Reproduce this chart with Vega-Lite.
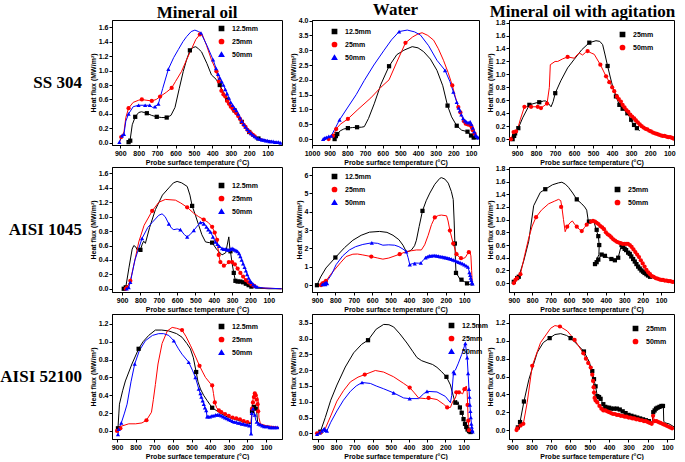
{
"$schema":"https://vega.github.io/schema/vega-lite/v6.json",
"padding":0,
"background":"white",
"bounds":"flush",
"columns":4,
"spacing":{"row":22,"column":30},
"resolve":{"scale":{"color":"independent","shape":"independent"}},
"datasets":{
"L":[
{"p":"a1","s":"12.5mm","T":862,"q":0},{"p":"a1","s":"12.5mm","T":855,"q":0.01},{"p":"a1","s":"12.5mm","T":846,"q":0.05},{"p":"a1","s":"12.5mm","T":835,"q":0.25},{"p":"a1","s":"12.5mm","T":819,"q":0.36},{"p":"a1","s":"12.5mm","T":800,"q":0.42},{"p":"a1","s":"12.5mm","T":785,"q":0.43},{"p":"a1","s":"12.5mm","T":770,"q":0.42},{"p":"a1","s":"12.5mm","T":756,"q":0.41},{"p":"a1","s":"12.5mm","T":730,"q":0.38},{"p":"a1","s":"12.5mm","T":702,"q":0.36},{"p":"a1","s":"12.5mm","T":675,"q":0.35},{"p":"a1","s":"12.5mm","T":648,"q":0.35},{"p":"a1","s":"12.5mm","T":625,"q":0.38},{"p":"a1","s":"12.5mm","T":603,"q":0.49},{"p":"a1","s":"12.5mm","T":580,"q":0.75},{"p":"a1","s":"12.5mm","T":558,"q":0.99},{"p":"a1","s":"12.5mm","T":540,"q":1.15},{"p":"a1","s":"12.5mm","T":522,"q":1.28},{"p":"a1","s":"12.5mm","T":505,"q":1.32},{"p":"a1","s":"12.5mm","T":490,"q":1.33},{"p":"a1","s":"12.5mm","T":475,"q":1.3},{"p":"a1","s":"12.5mm","T":459,"q":1.26},{"p":"a1","s":"12.5mm","T":430,"q":1.1},{"p":"a1","s":"12.5mm","T":405,"q":0.94},{"p":"a1","s":"12.5mm","T":380,"q":0.88},{"p":"a1","s":"12.5mm","T":360,"q":0.8},{"p":"a1","s":"12.5mm","T":340,"q":0.7},{"p":"a1","s":"12.5mm","T":315,"q":0.58},{"p":"a1","s":"12.5mm","T":300,"q":0.52},{"p":"a1","s":"12.5mm","T":271,"q":0.42},{"p":"a1","s":"12.5mm","T":233,"q":0.26},{"p":"a1","s":"12.5mm","T":195,"q":0.14},{"p":"a1","s":"12.5mm","T":157,"q":0.07},{"p":"a1","s":"12.5mm","T":120,"q":0.04},{"p":"a1","s":"12.5mm","T":100,"q":0.03},{"p":"a1","s":"12.5mm","T":60,"q":0.01},{"p":"a1","s":"12.5mm","T":30,"q":0},
{"p":"a1","s":"25mm","T":905,"q":0},{"p":"a1","s":"25mm","T":895,"q":0.08},{"p":"a1","s":"25mm","T":880,"q":0.15},{"p":"a1","s":"25mm","T":870,"q":0.35},{"p":"a1","s":"25mm","T":855,"q":0.48},{"p":"a1","s":"25mm","T":830,"q":0.56},{"p":"a1","s":"25mm","T":800,"q":0.59},{"p":"a1","s":"25mm","T":783,"q":0.6},{"p":"a1","s":"25mm","T":760,"q":0.59},{"p":"a1","s":"25mm","T":729,"q":0.58},{"p":"a1","s":"25mm","T":705,"q":0.6},{"p":"a1","s":"25mm","T":684,"q":0.64},{"p":"a1","s":"25mm","T":650,"q":0.7},{"p":"a1","s":"25mm","T":621,"q":0.76},{"p":"a1","s":"25mm","T":600,"q":0.85},{"p":"a1","s":"25mm","T":567,"q":0.99},{"p":"a1","s":"25mm","T":540,"q":1.15},{"p":"a1","s":"25mm","T":513,"q":1.3},{"p":"a1","s":"25mm","T":490,"q":1.43},{"p":"a1","s":"25mm","T":468,"q":1.5},{"p":"a1","s":"25mm","T":455,"q":1.5},{"p":"a1","s":"25mm","T":432,"q":1.35},{"p":"a1","s":"25mm","T":405,"q":1.15},{"p":"a1","s":"25mm","T":378,"q":0.99},{"p":"a1","s":"25mm","T":351,"q":0.72},{"p":"a1","s":"25mm","T":330,"q":0.64},{"p":"a1","s":"25mm","T":315,"q":0.56},{"p":"a1","s":"25mm","T":300,"q":0.5},{"p":"a1","s":"25mm","T":271,"q":0.42},{"p":"a1","s":"25mm","T":233,"q":0.26},{"p":"a1","s":"25mm","T":195,"q":0.14},{"p":"a1","s":"25mm","T":157,"q":0.07},{"p":"a1","s":"25mm","T":100,"q":0.03},{"p":"a1","s":"25mm","T":30,"q":0},
{"p":"a1","s":"50mm","T":910,"q":0},{"p":"a1","s":"50mm","T":905,"q":0.01},{"p":"a1","s":"50mm","T":891,"q":0.1},{"p":"a1","s":"50mm","T":880,"q":0.12},{"p":"a1","s":"50mm","T":870,"q":0.3},{"p":"a1","s":"50mm","T":855,"q":0.4},{"p":"a1","s":"50mm","T":830,"q":0.5},{"p":"a1","s":"50mm","T":801,"q":0.52},{"p":"a1","s":"50mm","T":765,"q":0.52},{"p":"a1","s":"50mm","T":740,"q":0.52},{"p":"a1","s":"50mm","T":725,"q":0.49},{"p":"a1","s":"50mm","T":711,"q":0.5},{"p":"a1","s":"50mm","T":693,"q":0.54},{"p":"a1","s":"50mm","T":670,"q":0.75},{"p":"a1","s":"50mm","T":639,"q":1.02},{"p":"a1","s":"50mm","T":610,"q":1.18},{"p":"a1","s":"50mm","T":585,"q":1.29},{"p":"a1","s":"50mm","T":560,"q":1.4},{"p":"a1","s":"50mm","T":540,"q":1.47},{"p":"a1","s":"50mm","T":515,"q":1.54},{"p":"a1","s":"50mm","T":495,"q":1.56},{"p":"a1","s":"50mm","T":475,"q":1.54},{"p":"a1","s":"50mm","T":462,"q":1.52},{"p":"a1","s":"50mm","T":430,"q":1.35},{"p":"a1","s":"50mm","T":396,"q":1.15},{"p":"a1","s":"50mm","T":369,"q":0.95},{"p":"a1","s":"50mm","T":340,"q":0.8},{"p":"a1","s":"50mm","T":315,"q":0.65},{"p":"a1","s":"50mm","T":300,"q":0.56},{"p":"a1","s":"50mm","T":271,"q":0.45},{"p":"a1","s":"50mm","T":233,"q":0.27},{"p":"a1","s":"50mm","T":195,"q":0.15},{"p":"a1","s":"50mm","T":157,"q":0.07},{"p":"a1","s":"50mm","T":100,"q":0.03},{"p":"a1","s":"50mm","T":25,"q":0},

{"p":"a2","s":"12.5mm","T":872,"q":0},{"p":"a2","s":"12.5mm","T":865,"q":0.1},{"p":"a2","s":"12.5mm","T":857,"q":0.17},{"p":"a2","s":"12.5mm","T":840,"q":0.28},{"p":"a2","s":"12.5mm","T":820,"q":0.34},{"p":"a2","s":"12.5mm","T":797,"q":0.37},{"p":"a2","s":"12.5mm","T":770,"q":0.39},{"p":"a2","s":"12.5mm","T":745,"q":0.4},{"p":"a2","s":"12.5mm","T":720,"q":0.4},{"p":"a2","s":"12.5mm","T":704,"q":0.42},{"p":"a2","s":"12.5mm","T":680,"q":0.7},{"p":"a2","s":"12.5mm","T":648,"q":1.19},{"p":"a2","s":"12.5mm","T":610,"q":1.85},{"p":"a2","s":"12.5mm","T":564,"q":2.46},{"p":"a2","s":"12.5mm","T":520,"q":2.85},{"p":"a2","s":"12.5mm","T":480,"q":3.0},{"p":"a2","s":"12.5mm","T":433,"q":3.12},{"p":"a2","s":"12.5mm","T":400,"q":3.08},{"p":"a2","s":"12.5mm","T":368,"q":2.95},{"p":"a2","s":"12.5mm","T":330,"q":2.7},{"p":"a2","s":"12.5mm","T":293,"q":2.32},{"p":"a2","s":"12.5mm","T":260,"q":1.8},{"p":"a2","s":"12.5mm","T":233,"q":1.13},{"p":"a2","s":"12.5mm","T":210,"q":0.75},{"p":"a2","s":"12.5mm","T":181,"q":0.45},{"p":"a2","s":"12.5mm","T":153,"q":0.3},{"p":"a2","s":"12.5mm","T":120,"q":0.25},{"p":"a2","s":"12.5mm","T":100,"q":0.12},{"p":"a2","s":"12.5mm","T":80,"q":0.03},{"p":"a2","s":"12.5mm","T":60,"q":0},
{"p":"a2","s":"25mm","T":906,"q":0},{"p":"a2","s":"25mm","T":881,"q":0.11},{"p":"a2","s":"25mm","T":863,"q":0.34},{"p":"a2","s":"25mm","T":840,"q":0.5},{"p":"a2","s":"25mm","T":797,"q":0.68},{"p":"a2","s":"25mm","T":740,"q":1.0},{"p":"a2","s":"25mm","T":667,"q":1.39},{"p":"a2","s":"25mm","T":610,"q":1.75},{"p":"a2","s":"25mm","T":564,"q":2.0},{"p":"a2","s":"25mm","T":520,"q":2.6},{"p":"a2","s":"25mm","T":471,"q":3.25},{"p":"a2","s":"25mm","T":430,"q":3.45},{"p":"a2","s":"25mm","T":400,"q":3.55},{"p":"a2","s":"25mm","T":377,"q":3.59},{"p":"a2","s":"25mm","T":345,"q":3.5},{"p":"a2","s":"25mm","T":312,"q":3.34},{"p":"a2","s":"25mm","T":285,"q":3.05},{"p":"a2","s":"25mm","T":256,"q":2.66},{"p":"a2","s":"25mm","T":230,"q":2.25},{"p":"a2","s":"25mm","T":206,"q":1.81},{"p":"a2","s":"25mm","T":190,"q":1.45},{"p":"a2","s":"25mm","T":172,"q":1.08},{"p":"a2","s":"25mm","T":155,"q":0.8},{"p":"a2","s":"25mm","T":135,"q":0.55},{"p":"a2","s":"25mm","T":115,"q":0.5},{"p":"a2","s":"25mm","T":100,"q":0.45},{"p":"a2","s":"25mm","T":90,"q":0.3},{"p":"a2","s":"25mm","T":75,"q":0.12},{"p":"a2","s":"25mm","T":55,"q":0.03},
{"p":"a2","s":"50mm","T":937,"q":0},{"p":"a2","s":"50mm","T":919,"q":0.06},{"p":"a2","s":"50mm","T":891,"q":0.11},{"p":"a2","s":"50mm","T":870,"q":0.35},{"p":"a2","s":"50mm","T":844,"q":0.65},{"p":"a2","s":"50mm","T":800,"q":1.05},{"p":"a2","s":"50mm","T":750,"q":1.5},{"p":"a2","s":"50mm","T":704,"q":1.98},{"p":"a2","s":"50mm","T":650,"q":2.5},{"p":"a2","s":"50mm","T":592,"q":3.0},{"p":"a2","s":"50mm","T":550,"q":3.35},{"p":"a2","s":"50mm","T":507,"q":3.63},{"p":"a2","s":"50mm","T":461,"q":3.68},{"p":"a2","s":"50mm","T":420,"q":3.62},{"p":"a2","s":"50mm","T":386,"q":3.51},{"p":"a2","s":"50mm","T":340,"q":3.15},{"p":"a2","s":"50mm","T":293,"q":2.66},{"p":"a2","s":"50mm","T":247,"q":2.32},{"p":"a2","s":"50mm","T":220,"q":1.95},{"p":"a2","s":"50mm","T":200,"q":1.59},{"p":"a2","s":"50mm","T":181,"q":1.25},{"p":"a2","s":"50mm","T":163,"q":0.96},{"p":"a2","s":"50mm","T":150,"q":0.75},{"p":"a2","s":"50mm","T":130,"q":0.6},{"p":"a2","s":"50mm","T":115,"q":0.55},{"p":"a2","s":"50mm","T":105,"q":0.58},{"p":"a2","s":"50mm","T":95,"q":0.45},{"p":"a2","s":"50mm","T":80,"q":0.2},{"p":"a2","s":"50mm","T":65,"q":0.08},{"p":"a2","s":"50mm","T":50,"q":0.02},

{"p":"a3","s":"25mm","T":923,"q":0},{"p":"a3","s":"25mm","T":910,"q":0.09},{"p":"a3","s":"25mm","T":893,"q":0.17},{"p":"a3","s":"25mm","T":870,"q":0.33},{"p":"a3","s":"25mm","T":835,"q":0.53},{"p":"a3","s":"25mm","T":800,"q":0.56},{"p":"a3","s":"25mm","T":783,"q":0.57},{"p":"a3","s":"25mm","T":760,"q":0.59},{"p":"a3","s":"25mm","T":748,"q":0.59},{"p":"a3","s":"25mm","T":735,"q":0.55},{"p":"a3","s":"25mm","T":721,"q":0.5},{"p":"a3","s":"25mm","T":710,"q":0.58},{"p":"a3","s":"25mm","T":699,"q":0.71},{"p":"a3","s":"25mm","T":670,"q":0.9},{"p":"a3","s":"25mm","T":634,"q":1.1},{"p":"a3","s":"25mm","T":600,"q":1.23},{"p":"a3","s":"25mm","T":560,"q":1.38},{"p":"a3","s":"25mm","T":520,"q":1.49},{"p":"a3","s":"25mm","T":485,"q":1.52},{"p":"a3","s":"25mm","T":465,"q":1.51},{"p":"a3","s":"25mm","T":450,"q":1.46},{"p":"a3","s":"25mm","T":437,"q":1.3},{"p":"a3","s":"25mm","T":424,"q":1.13},{"p":"a3","s":"25mm","T":410,"q":0.96},{"p":"a3","s":"25mm","T":397,"q":0.81},{"p":"a3","s":"25mm","T":380,"q":0.66},{"p":"a3","s":"25mm","T":362,"q":0.53},{"p":"a3","s":"25mm","T":336,"q":0.45},{"p":"a3","s":"25mm","T":310,"q":0.35},{"p":"a3","s":"25mm","T":292,"q":0.24},{"p":"a3","s":"25mm","T":270,"q":0.17},{"p":"a3","s":"25mm","T":255,"q":0.13},
{"p":"a3","s":"50mm","T":932,"q":0},{"p":"a3","s":"50mm","T":918,"q":0.11},{"p":"a3","s":"50mm","T":900,"q":0.12},{"p":"a3","s":"50mm","T":883,"q":0.3},{"p":"a3","s":"50mm","T":861,"q":0.5},{"p":"a3","s":"50mm","T":826,"q":0.5},{"p":"a3","s":"50mm","T":791,"q":0.5},{"p":"a3","s":"50mm","T":774,"q":0.48},{"p":"a3","s":"50mm","T":742,"q":0.55},{"p":"a3","s":"50mm","T":730,"q":0.8},{"p":"a3","s":"50mm","T":725,"q":1.15},{"p":"a3","s":"50mm","T":700,"q":1.2},{"p":"a3","s":"50mm","T":686,"q":1.2},{"p":"a3","s":"50mm","T":660,"q":1.24},{"p":"a3","s":"50mm","T":634,"q":1.27},{"p":"a3","s":"50mm","T":599,"q":1.25},{"p":"a3","s":"50mm","T":585,"q":1.3},{"p":"a3","s":"50mm","T":573,"q":1.33},{"p":"a3","s":"50mm","T":555,"q":1.3},{"p":"a3","s":"50mm","T":540,"q":1.34},{"p":"a3","s":"50mm","T":529,"q":1.36},{"p":"a3","s":"50mm","T":510,"q":1.33},{"p":"a3","s":"50mm","T":494,"q":1.31},{"p":"a3","s":"50mm","T":462,"q":1.15},{"p":"a3","s":"50mm","T":432,"q":0.97},{"p":"a3","s":"50mm","T":406,"q":0.84},{"p":"a3","s":"50mm","T":389,"q":0.74},{"p":"a3","s":"50mm","T":354,"q":0.58},{"p":"a3","s":"50mm","T":319,"q":0.43},{"p":"a3","s":"50mm","T":284,"q":0.32},{"p":"a3","s":"50mm","T":240,"q":0.19},{"p":"a3","s":"50mm","T":196,"q":0.12},{"p":"a3","s":"50mm","T":143,"q":0.06},{"p":"a3","s":"50mm","T":100,"q":0.03},{"p":"a3","s":"50mm","T":70,"q":0.01},

{"p":"b1","s":"12.5mm","T":891,"q":0},{"p":"b1","s":"12.5mm","T":880,"q":0.02},{"p":"b1","s":"12.5mm","T":862,"q":0.3},{"p":"b1","s":"12.5mm","T":845,"q":0.55},{"p":"b1","s":"12.5mm","T":836,"q":0.6},{"p":"b1","s":"12.5mm","T":825,"q":0.58},{"p":"b1","s":"12.5mm","T":818,"q":0.54},{"p":"b1","s":"12.5mm","T":800,"q":0.54},{"p":"b1","s":"12.5mm","T":790,"q":0.62},{"p":"b1","s":"12.5mm","T":782,"q":0.66},{"p":"b1","s":"12.5mm","T":773,"q":0.63},{"p":"b1","s":"12.5mm","T":750,"q":0.85},{"p":"b1","s":"12.5mm","T":718,"q":1.1},{"p":"b1","s":"12.5mm","T":680,"q":1.3},{"p":"b1","s":"12.5mm","T":645,"q":1.4},{"p":"b1","s":"12.5mm","T":620,"q":1.47},{"p":"b1","s":"12.5mm","T":600,"q":1.49},{"p":"b1","s":"12.5mm","T":575,"q":1.47},{"p":"b1","s":"12.5mm","T":545,"q":1.42},{"p":"b1","s":"12.5mm","T":530,"q":1.3},{"p":"b1","s":"12.5mm","T":518,"q":1.15},{"p":"b1","s":"12.5mm","T":500,"q":1.02},{"p":"b1","s":"12.5mm","T":482,"q":0.88},{"p":"b1","s":"12.5mm","T":465,"q":0.75},{"p":"b1","s":"12.5mm","T":445,"q":0.65},{"p":"b1","s":"12.5mm","T":425,"q":0.64},{"p":"b1","s":"12.5mm","T":409,"q":0.64},{"p":"b1","s":"12.5mm","T":385,"q":0.55},{"p":"b1","s":"12.5mm","T":355,"q":0.47},{"p":"b1","s":"12.5mm","T":335,"q":0.5},{"p":"b1","s":"12.5mm","T":318,"q":0.72},{"p":"b1","s":"12.5mm","T":312,"q":0.55},{"p":"b1","s":"12.5mm","T":309,"q":0.52},{"p":"b1","s":"12.5mm","T":300,"q":0.35},{"p":"b1","s":"12.5mm","T":291,"q":0.22},{"p":"b1","s":"12.5mm","T":282,"q":0.11},{"p":"b1","s":"12.5mm","T":260,"q":0.1},{"p":"b1","s":"12.5mm","T":230,"q":0.08},{"p":"b1","s":"12.5mm","T":200,"q":0.03},{"p":"b1","s":"12.5mm","T":170,"q":0.01},{"p":"b1","s":"12.5mm","T":100,"q":0},{"p":"b1","s":"12.5mm","T":30,"q":0},
{"p":"b1","s":"25mm","T":880,"q":0},{"p":"b1","s":"25mm","T":873,"q":0.02},{"p":"b1","s":"25mm","T":855,"q":0.11},{"p":"b1","s":"25mm","T":830,"q":0.4},{"p":"b1","s":"25mm","T":809,"q":0.65},{"p":"b1","s":"25mm","T":780,"q":0.88},{"p":"b1","s":"25mm","T":736,"q":1.08},{"p":"b1","s":"25mm","T":700,"q":1.2},{"p":"b1","s":"25mm","T":664,"q":1.24},{"p":"b1","s":"25mm","T":609,"q":1.23},{"p":"b1","s":"25mm","T":580,"q":1.19},{"p":"b1","s":"25mm","T":545,"q":1.13},{"p":"b1","s":"25mm","T":510,"q":1.05},{"p":"b1","s":"25mm","T":482,"q":1.0},{"p":"b1","s":"25mm","T":455,"q":0.96},{"p":"b1","s":"25mm","T":430,"q":0.92},{"p":"b1","s":"25mm","T":409,"q":0.86},{"p":"b1","s":"25mm","T":395,"q":0.78},{"p":"b1","s":"25mm","T":382,"q":0.68},{"p":"b1","s":"25mm","T":373,"q":0.47},{"p":"b1","s":"25mm","T":364,"q":0.37},{"p":"b1","s":"25mm","T":345,"q":0.32},{"p":"b1","s":"25mm","T":330,"q":0.34},{"p":"b1","s":"25mm","T":318,"q":0.37},{"p":"b1","s":"25mm","T":300,"q":0.37},{"p":"b1","s":"25mm","T":291,"q":0.36},{"p":"b1","s":"25mm","T":275,"q":0.3},{"p":"b1","s":"25mm","T":250,"q":0.2},{"p":"b1","s":"25mm","T":225,"q":0.12},{"p":"b1","s":"25mm","T":200,"q":0.07},{"p":"b1","s":"25mm","T":170,"q":0.03},{"p":"b1","s":"25mm","T":130,"q":0.01},{"p":"b1","s":"25mm","T":30,"q":0},
{"p":"b1","s":"50mm","T":875,"q":0},{"p":"b1","s":"50mm","T":864,"q":0.02},{"p":"b1","s":"50mm","T":855,"q":0.09},{"p":"b1","s":"50mm","T":830,"q":0.4},{"p":"b1","s":"50mm","T":791,"q":0.7},{"p":"b1","s":"50mm","T":760,"q":0.85},{"p":"b1","s":"50mm","T":736,"q":0.92},{"p":"b1","s":"50mm","T":700,"q":1.02},{"p":"b1","s":"50mm","T":682,"q":1.04},{"p":"b1","s":"50mm","T":665,"q":1.0},{"p":"b1","s":"50mm","T":645,"q":0.9},{"p":"b1","s":"50mm","T":630,"q":0.84},{"p":"b1","s":"50mm","T":618,"q":0.82},{"p":"b1","s":"50mm","T":600,"q":0.83},{"p":"b1","s":"50mm","T":582,"q":0.82},{"p":"b1","s":"50mm","T":560,"q":0.75},{"p":"b1","s":"50mm","T":545,"q":0.72},{"p":"b1","s":"50mm","T":530,"q":0.75},{"p":"b1","s":"50mm","T":509,"q":0.81},{"p":"b1","s":"50mm","T":490,"q":0.87},{"p":"b1","s":"50mm","T":473,"q":0.92},{"p":"b1","s":"50mm","T":455,"q":0.92},{"p":"b1","s":"50mm","T":445,"q":0.88},{"p":"b1","s":"50mm","T":418,"q":0.79},{"p":"b1","s":"50mm","T":391,"q":0.65},{"p":"b1","s":"50mm","T":373,"q":0.6},{"p":"b1","s":"50mm","T":355,"q":0.56},{"p":"b1","s":"50mm","T":335,"q":0.55},{"p":"b1","s":"50mm","T":318,"q":0.54},{"p":"b1","s":"50mm","T":300,"q":0.56},{"p":"b1","s":"50mm","T":285,"q":0.54},{"p":"b1","s":"50mm","T":270,"q":0.52},{"p":"b1","s":"50mm","T":255,"q":0.45},{"p":"b1","s":"50mm","T":240,"q":0.35},{"p":"b1","s":"50mm","T":225,"q":0.25},{"p":"b1","s":"50mm","T":210,"q":0.15},{"p":"b1","s":"50mm","T":195,"q":0.09},{"p":"b1","s":"50mm","T":180,"q":0.05},{"p":"b1","s":"50mm","T":160,"q":0.02},{"p":"b1","s":"50mm","T":120,"q":0.01},{"p":"b1","s":"50mm","T":30,"q":0},

{"p":"b2","s":"12.5mm","T":900,"q":0},{"p":"b2","s":"12.5mm","T":880,"q":0.45},{"p":"b2","s":"12.5mm","T":851,"q":0.94},{"p":"b2","s":"12.5mm","T":800,"q":1.51},{"p":"b2","s":"12.5mm","T":750,"q":2.05},{"p":"b2","s":"12.5mm","T":705,"q":2.45},{"p":"b2","s":"12.5mm","T":660,"q":2.72},{"p":"b2","s":"12.5mm","T":615,"q":2.89},{"p":"b2","s":"12.5mm","T":560,"q":2.93},{"p":"b2","s":"12.5mm","T":520,"q":2.88},{"p":"b2","s":"12.5mm","T":487,"q":2.72},{"p":"b2","s":"12.5mm","T":455,"q":2.48},{"p":"b2","s":"12.5mm","T":433,"q":2.18},{"p":"b2","s":"12.5mm","T":415,"q":1.83},{"p":"b2","s":"12.5mm","T":400,"q":1.85},{"p":"b2","s":"12.5mm","T":387,"q":1.92},{"p":"b2","s":"12.5mm","T":370,"q":2.15},{"p":"b2","s":"12.5mm","T":360,"q":2.45},{"p":"b2","s":"12.5mm","T":345,"q":3.2},{"p":"b2","s":"12.5mm","T":327,"q":4.05},{"p":"b2","s":"12.5mm","T":307,"q":4.6},{"p":"b2","s":"12.5mm","T":287,"q":5.02},{"p":"b2","s":"12.5mm","T":260,"q":5.5},{"p":"b2","s":"12.5mm","T":233,"q":5.82},{"p":"b2","s":"12.5mm","T":224,"q":5.86},{"p":"b2","s":"12.5mm","T":205,"q":5.78},{"p":"b2","s":"12.5mm","T":187,"q":5.56},{"p":"b2","s":"12.5mm","T":170,"q":5.1},{"p":"b2","s":"12.5mm","T":160,"q":4.67},{"p":"b2","s":"12.5mm","T":155,"q":3.5},{"p":"b2","s":"12.5mm","T":151,"q":2.27},{"p":"b2","s":"12.5mm","T":148,"q":1.4},{"p":"b2","s":"12.5mm","T":145,"q":0.67},{"p":"b2","s":"12.5mm","T":130,"q":0.45},{"p":"b2","s":"12.5mm","T":124,"q":0.32},{"p":"b2","s":"12.5mm","T":110,"q":0.25},{"p":"b2","s":"12.5mm","T":100,"q":0.2},{"p":"b2","s":"12.5mm","T":85,"q":0.1},{"p":"b2","s":"12.5mm","T":70,"q":0.03},{"p":"b2","s":"12.5mm","T":55,"q":0},
{"p":"b2","s":"25mm","T":878,"q":0},{"p":"b2","s":"25mm","T":870,"q":0.1},{"p":"b2","s":"25mm","T":860,"q":0.14},{"p":"b2","s":"25mm","T":851,"q":0.23},{"p":"b2","s":"25mm","T":825,"q":0.6},{"p":"b2","s":"25mm","T":796,"q":0.94},{"p":"b2","s":"25mm","T":770,"q":1.25},{"p":"b2","s":"25mm","T":742,"q":1.56},{"p":"b2","s":"25mm","T":705,"q":1.69},{"p":"b2","s":"25mm","T":680,"q":1.7},{"p":"b2","s":"25mm","T":651,"q":1.65},{"p":"b2","s":"25mm","T":605,"q":1.56},{"p":"b2","s":"25mm","T":570,"q":1.48},{"p":"b2","s":"25mm","T":542,"q":1.42},{"p":"b2","s":"25mm","T":510,"q":1.48},{"p":"b2","s":"25mm","T":487,"q":1.56},{"p":"b2","s":"25mm","T":451,"q":1.69},{"p":"b2","s":"25mm","T":415,"q":1.83},{"p":"b2","s":"25mm","T":385,"q":1.88},{"p":"b2","s":"25mm","T":360,"q":1.92},{"p":"b2","s":"25mm","T":333,"q":1.92},{"p":"b2","s":"25mm","T":315,"q":2.2},{"p":"b2","s":"25mm","T":296,"q":2.72},{"p":"b2","s":"25mm","T":278,"q":3.3},{"p":"b2","s":"25mm","T":260,"q":3.69},{"p":"b2","s":"25mm","T":240,"q":3.8},{"p":"b2","s":"25mm","T":224,"q":3.82},{"p":"b2","s":"25mm","T":196,"q":3.78},{"p":"b2","s":"25mm","T":188,"q":3.5},{"p":"b2","s":"25mm","T":178,"q":2.98},{"p":"b2","s":"25mm","T":160,"q":2.27},{"p":"b2","s":"25mm","T":142,"q":1.69},{"p":"b2","s":"25mm","T":125,"q":1.5},{"p":"b2","s":"25mm","T":110,"q":1.45},{"p":"b2","s":"25mm","T":95,"q":1.5},{"p":"b2","s":"25mm","T":80,"q":1.75},{"p":"b2","s":"25mm","T":70,"q":1.85},{"p":"b2","s":"25mm","T":64,"q":1.6},{"p":"b2","s":"25mm","T":60,"q":0.8},{"p":"b2","s":"25mm","T":57,"q":0.2},{"p":"b2","s":"25mm","T":55,"q":0.05},
{"p":"b2","s":"50mm","T":884,"q":0},{"p":"b2","s":"50mm","T":870,"q":0.05},{"p":"b2","s":"50mm","T":860,"q":0.1},{"p":"b2","s":"50mm","T":850,"q":0.15},{"p":"b2","s":"50mm","T":840,"q":0.3},{"p":"b2","s":"50mm","T":820,"q":0.6},{"p":"b2","s":"50mm","T":796,"q":1.12},{"p":"b2","s":"50mm","T":760,"q":1.6},{"p":"b2","s":"50mm","T":724,"q":1.92},{"p":"b2","s":"50mm","T":690,"q":2.1},{"p":"b2","s":"50mm","T":651,"q":2.22},{"p":"b2","s":"50mm","T":602,"q":2.31},{"p":"b2","s":"50mm","T":570,"q":2.28},{"p":"b2","s":"50mm","T":542,"q":2.18},{"p":"b2","s":"50mm","T":510,"q":2.2},{"p":"b2","s":"50mm","T":478,"q":2.18},{"p":"b2","s":"50mm","T":455,"q":2.1},{"p":"b2","s":"50mm","T":433,"q":1.97},{"p":"b2","s":"50mm","T":415,"q":1.83},{"p":"b2","s":"50mm","T":405,"q":1.5},{"p":"b2","s":"50mm","T":396,"q":1.12},{"p":"b2","s":"50mm","T":380,"q":1.18},{"p":"b2","s":"50mm","T":369,"q":1.21},{"p":"b2","s":"50mm","T":350,"q":1.2},{"p":"b2","s":"50mm","T":336,"q":1.21},{"p":"b2","s":"50mm","T":320,"q":1.4},{"p":"b2","s":"50mm","T":305,"q":1.55},{"p":"b2","s":"50mm","T":288,"q":1.6},{"p":"b2","s":"50mm","T":269,"q":1.62},{"p":"b2","s":"50mm","T":255,"q":1.63},{"p":"b2","s":"50mm","T":242,"q":1.6},{"p":"b2","s":"50mm","T":215,"q":1.56},{"p":"b2","s":"50mm","T":190,"q":1.5},{"p":"b2","s":"50mm","T":178,"q":1.47},{"p":"b2","s":"50mm","T":160,"q":1.38},{"p":"b2","s":"50mm","T":142,"q":1.3},{"p":"b2","s":"50mm","T":115,"q":1.2},{"p":"b2","s":"50mm","T":95,"q":1.1},{"p":"b2","s":"50mm","T":80,"q":1.0},{"p":"b2","s":"50mm","T":72,"q":0.7},{"p":"b2","s":"50mm","T":65,"q":0.4},{"p":"b2","s":"50mm","T":58,"q":0.15},{"p":"b2","s":"50mm","T":50,"q":0},

{"p":"b3","s":"25mm","T":900,"q":0.02},{"p":"b3","s":"25mm","T":882,"q":0.08},{"p":"b3","s":"25mm","T":873,"q":0.1},{"p":"b3","s":"25mm","T":846,"q":0.35},{"p":"b3","s":"25mm","T":819,"q":0.66},{"p":"b3","s":"25mm","T":792,"q":1.22},{"p":"b3","s":"25mm","T":756,"q":1.43},{"p":"b3","s":"25mm","T":729,"q":1.48},{"p":"b3","s":"25mm","T":690,"q":1.55},{"p":"b3","s":"25mm","T":657,"q":1.58},{"p":"b3","s":"25mm","T":639,"q":1.59},{"p":"b3","s":"25mm","T":620,"q":1.56},{"p":"b3","s":"25mm","T":603,"q":1.51},{"p":"b3","s":"25mm","T":580,"q":1.42},{"p":"b3","s":"25mm","T":558,"q":1.32},{"p":"b3","s":"25mm","T":531,"q":1.25},{"p":"b3","s":"25mm","T":515,"q":1.2},{"p":"b3","s":"25mm","T":504,"q":1.15},{"p":"b3","s":"25mm","T":495,"q":0.97},{"p":"b3","s":"25mm","T":480,"q":0.98},{"p":"b3","s":"25mm","T":468,"q":1.0},{"p":"b3","s":"25mm","T":458,"q":0.9},{"p":"b3","s":"25mm","T":450,"q":0.82},{"p":"b3","s":"25mm","T":441,"q":0.74},{"p":"b3","s":"25mm","T":436,"q":0.6},{"p":"b3","s":"25mm","T":438,"q":0.45},{"p":"b3","s":"25mm","T":459,"q":0.3},{"p":"b3","s":"25mm","T":450,"q":0.33},{"p":"b3","s":"25mm","T":441,"q":0.37},{"p":"b3","s":"25mm","T":430,"q":0.42},{"p":"b3","s":"25mm","T":423,"q":0.45},{"p":"b3","s":"25mm","T":405,"q":0.43},{"p":"b3","s":"25mm","T":387,"q":0.4},{"p":"b3","s":"25mm","T":370,"q":0.38},{"p":"b3","s":"25mm","T":351,"q":0.36},{"p":"b3","s":"25mm","T":333,"q":0.4},{"p":"b3","s":"25mm","T":315,"q":0.61},{"p":"b3","s":"25mm","T":306,"q":0.58},{"p":"b3","s":"25mm","T":290,"q":0.52},{"p":"b3","s":"25mm","T":279,"q":0.48},{"p":"b3","s":"25mm","T":265,"q":0.45},{"p":"b3","s":"25mm","T":252,"q":0.38},{"p":"b3","s":"25mm","T":234,"q":0.3},{"p":"b3","s":"25mm","T":220,"q":0.24},{"p":"b3","s":"25mm","T":207,"q":0.2},{"p":"b3","s":"25mm","T":190,"q":0.16},{"p":"b3","s":"25mm","T":171,"q":0.12},{"p":"b3","s":"25mm","T":150,"q":0.09},{"p":"b3","s":"25mm","T":135,"q":0.07},{"p":"b3","s":"25mm","T":99,"q":0.04},{"p":"b3","s":"25mm","T":60,"q":0.02},{"p":"b3","s":"25mm","T":28,"q":0.01},
{"p":"b3","s":"50mm","T":900,"q":0},{"p":"b3","s":"50mm","T":891,"q":0.05},{"p":"b3","s":"50mm","T":882,"q":0.08},{"p":"b3","s":"50mm","T":864,"q":0.14},{"p":"b3","s":"50mm","T":840,"q":0.45},{"p":"b3","s":"50mm","T":819,"q":0.71},{"p":"b3","s":"50mm","T":800,"q":0.9},{"p":"b3","s":"50mm","T":779,"q":1.04},{"p":"b3","s":"50mm","T":750,"q":1.15},{"p":"b3","s":"50mm","T":711,"q":1.25},{"p":"b3","s":"50mm","T":680,"q":1.29},{"p":"b3","s":"50mm","T":657,"q":1.32},{"p":"b3","s":"50mm","T":645,"q":1.3},{"p":"b3","s":"50mm","T":639,"q":1.2},{"p":"b3","s":"50mm","T":630,"q":1.0},{"p":"b3","s":"50mm","T":621,"q":0.81},{"p":"b3","s":"50mm","T":610,"q":0.89},{"p":"b3","s":"50mm","T":595,"q":0.95},{"p":"b3","s":"50mm","T":582,"q":0.98},{"p":"b3","s":"50mm","T":570,"q":0.93},{"p":"b3","s":"50mm","T":558,"q":0.89},{"p":"b3","s":"50mm","T":545,"q":0.85},{"p":"b3","s":"50mm","T":531,"q":0.82},{"p":"b3","s":"50mm","T":515,"q":0.88},{"p":"b3","s":"50mm","T":504,"q":0.92},{"p":"b3","s":"50mm","T":486,"q":0.97},{"p":"b3","s":"50mm","T":470,"q":0.98},{"p":"b3","s":"50mm","T":459,"q":0.97},{"p":"b3","s":"50mm","T":440,"q":0.93},{"p":"b3","s":"50mm","T":423,"q":0.89},{"p":"b3","s":"50mm","T":405,"q":0.83},{"p":"b3","s":"50mm","T":387,"q":0.76},{"p":"b3","s":"50mm","T":370,"q":0.72},{"p":"b3","s":"50mm","T":351,"q":0.67},{"p":"b3","s":"50mm","T":333,"q":0.64},{"p":"b3","s":"50mm","T":315,"q":0.62},{"p":"b3","s":"50mm","T":300,"q":0.62},{"p":"b3","s":"50mm","T":288,"q":0.62},{"p":"b3","s":"50mm","T":275,"q":0.61},{"p":"b3","s":"50mm","T":261,"q":0.58},{"p":"b3","s":"50mm","T":245,"q":0.51},{"p":"b3","s":"50mm","T":225,"q":0.43},{"p":"b3","s":"50mm","T":207,"q":0.34},{"p":"b3","s":"50mm","T":189,"q":0.25},{"p":"b3","s":"50mm","T":171,"q":0.18},{"p":"b3","s":"50mm","T":153,"q":0.12},{"p":"b3","s":"50mm","T":135,"q":0.09},{"p":"b3","s":"50mm","T":117,"q":0.07},{"p":"b3","s":"50mm","T":95,"q":0.05},{"p":"b3","s":"50mm","T":73,"q":0.04},{"p":"b3","s":"50mm","T":50,"q":0.03},{"p":"b3","s":"50mm","T":28,"q":0.02},

{"p":"c1","s":"12.5mm","T":895,"q":0.03},{"p":"c1","s":"12.5mm","T":890,"q":0.2},{"p":"c1","s":"12.5mm","T":887,"q":0.3},{"p":"c1","s":"12.5mm","T":870,"q":0.45},{"p":"c1","s":"12.5mm","T":855,"q":0.56},{"p":"c1","s":"12.5mm","T":820,"q":0.75},{"p":"c1","s":"12.5mm","T":784,"q":0.92},{"p":"c1","s":"12.5mm","T":760,"q":1.0},{"p":"c1","s":"12.5mm","T":730,"q":1.07},{"p":"c1","s":"12.5mm","T":694,"q":1.13},{"p":"c1","s":"12.5mm","T":660,"q":1.13},{"p":"c1","s":"12.5mm","T":622,"q":1.12},{"p":"c1","s":"12.5mm","T":580,"q":1.09},{"p":"c1","s":"12.5mm","T":551,"q":1.05},{"p":"c1","s":"12.5mm","T":525,"q":0.98},{"p":"c1","s":"12.5mm","T":506,"q":0.92},{"p":"c1","s":"12.5mm","T":490,"q":0.82},{"p":"c1","s":"12.5mm","T":475,"q":0.66},{"p":"c1","s":"12.5mm","T":465,"q":0.55},{"p":"c1","s":"12.5mm","T":452,"q":0.47},{"p":"c1","s":"12.5mm","T":435,"q":0.4},{"p":"c1","s":"12.5mm","T":416,"q":0.34},{"p":"c1","s":"12.5mm","T":389,"q":0.26},{"p":"c1","s":"12.5mm","T":353,"q":0.21},{"p":"c1","s":"12.5mm","T":320,"q":0.17},{"p":"c1","s":"12.5mm","T":300,"q":0.15},{"p":"c1","s":"12.5mm","T":250,"q":0.12},{"p":"c1","s":"12.5mm","T":200,"q":0.09},{"p":"c1","s":"12.5mm","T":180,"q":0.08},{"p":"c1","s":"12.5mm","T":176,"q":0.2},{"p":"c1","s":"12.5mm","T":170,"q":0.27},{"p":"c1","s":"12.5mm","T":160,"q":0.28},{"p":"c1","s":"12.5mm","T":150,"q":0.22},{"p":"c1","s":"12.5mm","T":145,"q":0.1},{"p":"c1","s":"12.5mm","T":130,"q":0.07},{"p":"c1","s":"12.5mm","T":100,"q":0.05},{"p":"c1","s":"12.5mm","T":60,"q":0.04},{"p":"c1","s":"12.5mm","T":30,"q":0.03},
{"p":"c1","s":"25mm","T":900,"q":0},{"p":"c1","s":"25mm","T":882,"q":0.05},{"p":"c1","s":"25mm","T":837,"q":0.08},{"p":"c1","s":"25mm","T":800,"q":0.08},{"p":"c1","s":"25mm","T":766,"q":0.09},{"p":"c1","s":"25mm","T":742,"q":0.12},{"p":"c1","s":"25mm","T":715,"q":0.21},{"p":"c1","s":"25mm","T":705,"q":0.35},{"p":"c1","s":"25mm","T":694,"q":0.52},{"p":"c1","s":"25mm","T":680,"q":0.75},{"p":"c1","s":"25mm","T":658,"q":0.98},{"p":"c1","s":"25mm","T":630,"q":1.12},{"p":"c1","s":"25mm","T":604,"q":1.16},{"p":"c1","s":"25mm","T":580,"q":1.15},{"p":"c1","s":"25mm","T":551,"q":1.13},{"p":"c1","s":"25mm","T":530,"q":1.06},{"p":"c1","s":"25mm","T":506,"q":0.96},{"p":"c1","s":"25mm","T":480,"q":0.84},{"p":"c1","s":"25mm","T":457,"q":0.73},{"p":"c1","s":"25mm","T":440,"q":0.66},{"p":"c1","s":"25mm","T":425,"q":0.6},{"p":"c1","s":"25mm","T":398,"q":0.53},{"p":"c1","s":"25mm","T":389,"q":0.51},{"p":"c1","s":"25mm","T":382,"q":0.42},{"p":"c1","s":"25mm","T":375,"q":0.32},{"p":"c1","s":"25mm","T":365,"q":0.26},{"p":"c1","s":"25mm","T":353,"q":0.23},{"p":"c1","s":"25mm","T":327,"q":0.2},{"p":"c1","s":"25mm","T":291,"q":0.15},{"p":"c1","s":"25mm","T":250,"q":0.13},{"p":"c1","s":"25mm","T":200,"q":0.1},{"p":"c1","s":"25mm","T":180,"q":0.09},{"p":"c1","s":"25mm","T":177,"q":0.2},{"p":"c1","s":"25mm","T":172,"q":0.32},{"p":"c1","s":"25mm","T":165,"q":0.42},{"p":"c1","s":"25mm","T":155,"q":0.4},{"p":"c1","s":"25mm","T":145,"q":0.38},{"p":"c1","s":"25mm","T":140,"q":0.3},{"p":"c1","s":"25mm","T":138,"q":0.15},{"p":"c1","s":"25mm","T":130,"q":0.08},{"p":"c1","s":"25mm","T":100,"q":0.06},{"p":"c1","s":"25mm","T":60,"q":0.05},{"p":"c1","s":"25mm","T":30,"q":0.04},
{"p":"c1","s":"50mm","T":895,"q":-0.04},{"p":"c1","s":"50mm","T":891,"q":0.02},{"p":"c1","s":"50mm","T":877,"q":0.09},{"p":"c1","s":"50mm","T":860,"q":0.2},{"p":"c1","s":"50mm","T":846,"q":0.3},{"p":"c1","s":"50mm","T":825,"q":0.55},{"p":"c1","s":"50mm","T":805,"q":0.75},{"p":"c1","s":"50mm","T":780,"q":0.9},{"p":"c1","s":"50mm","T":748,"q":1.01},{"p":"c1","s":"50mm","T":710,"q":1.07},{"p":"c1","s":"50mm","T":676,"q":1.09},{"p":"c1","s":"50mm","T":650,"q":1.09},{"p":"c1","s":"50mm","T":622,"q":1.07},{"p":"c1","s":"50mm","T":595,"q":1.01},{"p":"c1","s":"50mm","T":570,"q":0.92},{"p":"c1","s":"50mm","T":551,"q":0.86},{"p":"c1","s":"50mm","T":515,"q":0.77},{"p":"c1","s":"50mm","T":495,"q":0.68},{"p":"c1","s":"50mm","T":479,"q":0.6},{"p":"c1","s":"50mm","T":461,"q":0.47},{"p":"c1","s":"50mm","T":447,"q":0.38},{"p":"c1","s":"50mm","T":434,"q":0.3},{"p":"c1","s":"50mm","T":421,"q":0.23},{"p":"c1","s":"50mm","T":416,"q":0.15},{"p":"c1","s":"50mm","T":400,"q":0.16},{"p":"c1","s":"50mm","T":389,"q":0.17},{"p":"c1","s":"50mm","T":353,"q":0.19},{"p":"c1","s":"50mm","T":318,"q":0.15},{"p":"c1","s":"50mm","T":282,"q":0.11},{"p":"c1","s":"50mm","T":250,"q":0.09},{"p":"c1","s":"50mm","T":200,"q":0.07},{"p":"c1","s":"50mm","T":182,"q":0.06},{"p":"c1","s":"50mm","T":180,"q":-0.03},{"p":"c1","s":"50mm","T":178,"q":0.1},{"p":"c1","s":"50mm","T":175,"q":0.2},{"p":"c1","s":"50mm","T":170,"q":0.25},{"p":"c1","s":"50mm","T":162,"q":0.2},{"p":"c1","s":"50mm","T":155,"q":0.12},{"p":"c1","s":"50mm","T":140,"q":0.08},{"p":"c1","s":"50mm","T":100,"q":0.05},{"p":"c1","s":"50mm","T":60,"q":0.04},{"p":"c1","s":"50mm","T":30,"q":0.04},

{"p":"c2","s":"12.5mm","T":905,"q":0},{"p":"c2","s":"12.5mm","T":896,"q":0.02},{"p":"c2","s":"12.5mm","T":887,"q":0.05},{"p":"c2","s":"12.5mm","T":860,"q":0.5},{"p":"c2","s":"12.5mm","T":830,"q":1.05},{"p":"c2","s":"12.5mm","T":796,"q":1.53},{"p":"c2","s":"12.5mm","T":750,"q":2.1},{"p":"c2","s":"12.5mm","T":704,"q":2.55},{"p":"c2","s":"12.5mm","T":660,"q":2.82},{"p":"c2","s":"12.5mm","T":625,"q":2.95},{"p":"c2","s":"12.5mm","T":580,"q":3.3},{"p":"c2","s":"12.5mm","T":539,"q":3.45},{"p":"c2","s":"12.5mm","T":510,"q":3.44},{"p":"c2","s":"12.5mm","T":484,"q":3.37},{"p":"c2","s":"12.5mm","T":450,"q":3.15},{"p":"c2","s":"12.5mm","T":411,"q":2.86},{"p":"c2","s":"12.5mm","T":380,"q":2.6},{"p":"c2","s":"12.5mm","T":356,"q":2.4},{"p":"c2","s":"12.5mm","T":330,"q":2.3},{"p":"c2","s":"12.5mm","T":301,"q":2.24},{"p":"c2","s":"12.5mm","T":270,"q":2.18},{"p":"c2","s":"12.5mm","T":246,"q":2.09},{"p":"c2","s":"12.5mm","T":220,"q":1.95},{"p":"c2","s":"12.5mm","T":194,"q":1.79},{"p":"c2","s":"12.5mm","T":172,"q":1.53},{"p":"c2","s":"12.5mm","T":163,"q":1.33},{"p":"c2","s":"12.5mm","T":150,"q":1.05},{"p":"c2","s":"12.5mm","T":145,"q":0.97},{"p":"c2","s":"12.5mm","T":140,"q":1.05},{"p":"c2","s":"12.5mm","T":135,"q":0.9},{"p":"c2","s":"12.5mm","T":130,"q":1.0},{"p":"c2","s":"12.5mm","T":125,"q":0.88},{"p":"c2","s":"12.5mm","T":115,"q":0.75},{"p":"c2","s":"12.5mm","T":105,"q":0.55},{"p":"c2","s":"12.5mm","T":95,"q":0.35},{"p":"c2","s":"12.5mm","T":85,"q":0.2},{"p":"c2","s":"12.5mm","T":75,"q":0.1},{"p":"c2","s":"12.5mm","T":65,"q":0.05},{"p":"c2","s":"12.5mm","T":50,"q":0},
{"p":"c2","s":"25mm","T":905,"q":0},{"p":"c2","s":"25mm","T":887,"q":0.02},{"p":"c2","s":"25mm","T":860,"q":0.15},{"p":"c2","s":"25mm","T":830,"q":0.55},{"p":"c2","s":"25mm","T":796,"q":1.02},{"p":"c2","s":"25mm","T":760,"q":1.35},{"p":"c2","s":"25mm","T":722,"q":1.63},{"p":"c2","s":"25mm","T":680,"q":1.78},{"p":"c2","s":"25mm","T":643,"q":1.86},{"p":"c2","s":"25mm","T":585,"q":1.99},{"p":"c2","s":"25mm","T":539,"q":1.94},{"p":"c2","s":"25mm","T":484,"q":1.79},{"p":"c2","s":"25mm","T":429,"q":1.58},{"p":"c2","s":"25mm","T":396,"q":1.45},{"p":"c2","s":"25mm","T":370,"q":1.28},{"p":"c2","s":"25mm","T":347,"q":1.12},{"p":"c2","s":"25mm","T":310,"q":1.1},{"p":"c2","s":"25mm","T":292,"q":1.12},{"p":"c2","s":"25mm","T":246,"q":1.07},{"p":"c2","s":"25mm","T":209,"q":0.92},{"p":"c2","s":"25mm","T":190,"q":0.82},{"p":"c2","s":"25mm","T":172,"q":0.82},{"p":"c2","s":"25mm","T":160,"q":1.0},{"p":"c2","s":"25mm","T":145,"q":1.12},{"p":"c2","s":"25mm","T":135,"q":1.3},{"p":"c2","s":"25mm","T":120,"q":1.3},{"p":"c2","s":"25mm","T":105,"q":1.25},{"p":"c2","s":"25mm","T":95,"q":1.4},{"p":"c2","s":"25mm","T":85,"q":1.5},{"p":"c2","s":"25mm","T":80,"q":1.3},{"p":"c2","s":"25mm","T":75,"q":0.5},{"p":"c2","s":"25mm","T":70,"q":0.1},{"p":"c2","s":"25mm","T":60,"q":0.03},
{"p":"c2","s":"50mm","T":905,"q":-0.03},{"p":"c2","s":"50mm","T":891,"q":0.02},{"p":"c2","s":"50mm","T":878,"q":0.08},{"p":"c2","s":"50mm","T":865,"q":0.15},{"p":"c2","s":"50mm","T":851,"q":0.08},{"p":"c2","s":"50mm","T":830,"q":0.35},{"p":"c2","s":"50mm","T":796,"q":0.71},{"p":"c2","s":"50mm","T":760,"q":1.05},{"p":"c2","s":"50mm","T":722,"q":1.33},{"p":"c2","s":"50mm","T":690,"q":1.5},{"p":"c2","s":"50mm","T":658,"q":1.61},{"p":"c2","s":"50mm","T":612,"q":1.58},{"p":"c2","s":"50mm","T":580,"q":1.5},{"p":"c2","s":"50mm","T":539,"q":1.41},{"p":"c2","s":"50mm","T":484,"q":1.28},{"p":"c2","s":"50mm","T":429,"q":1.12},{"p":"c2","s":"50mm","T":396,"q":1.1},{"p":"c2","s":"50mm","T":347,"q":1.1},{"p":"c2","s":"50mm","T":320,"q":1.25},{"p":"c2","s":"50mm","T":301,"q":1.33},{"p":"c2","s":"50mm","T":246,"q":1.31},{"p":"c2","s":"50mm","T":200,"q":1.17},{"p":"c2","s":"50mm","T":172,"q":0.97},{"p":"c2","s":"50mm","T":165,"q":1.2},{"p":"c2","s":"50mm","T":155,"q":1.95},{"p":"c2","s":"50mm","T":145,"q":2.0},{"p":"c2","s":"50mm","T":130,"q":2.2},{"p":"c2","s":"50mm","T":110,"q":2.5},{"p":"c2","s":"50mm","T":90,"q":2.85},{"p":"c2","s":"50mm","T":80,"q":2.4},{"p":"c2","s":"50mm","T":75,"q":1.9},{"p":"c2","s":"50mm","T":70,"q":1.4},{"p":"c2","s":"50mm","T":65,"q":0.9},{"p":"c2","s":"50mm","T":60,"q":0.5},{"p":"c2","s":"50mm","T":55,"q":0.2},{"p":"c2","s":"50mm","T":50,"q":0.05},

{"p":"c3","s":"25mm","T":874,"q":0},{"p":"c3","s":"25mm","T":871,"q":0.03},{"p":"c3","s":"25mm","T":860,"q":0.09},{"p":"c3","s":"25mm","T":840,"q":0.32},{"p":"c3","s":"25mm","T":814,"q":0.57},{"p":"c3","s":"25mm","T":771,"q":0.87},{"p":"c3","s":"25mm","T":740,"q":0.98},{"p":"c3","s":"25mm","T":707,"q":1.03},{"p":"c3","s":"25mm","T":680,"q":1.07},{"p":"c3","s":"25mm","T":650,"q":1.08},{"p":"c3","s":"25mm","T":620,"q":1.06},{"p":"c3","s":"25mm","T":599,"q":1.03},{"p":"c3","s":"25mm","T":565,"q":0.96},{"p":"c3","s":"25mm","T":530,"q":0.88},{"p":"c3","s":"25mm","T":504,"q":0.77},{"p":"c3","s":"25mm","T":487,"q":0.66},{"p":"c3","s":"25mm","T":478,"q":0.56},{"p":"c3","s":"25mm","T":470,"q":0.49},{"p":"c3","s":"25mm","T":461,"q":0.38},{"p":"c3","s":"25mm","T":444,"q":0.35},{"p":"c3","s":"25mm","T":435,"q":0.31},{"p":"c3","s":"25mm","T":409,"q":0.25},{"p":"c3","s":"25mm","T":375,"q":0.24},{"p":"c3","s":"25mm","T":341,"q":0.23},{"p":"c3","s":"25mm","T":323,"q":0.2},{"p":"c3","s":"25mm","T":289,"q":0.16},{"p":"c3","s":"25mm","T":237,"q":0.12},{"p":"c3","s":"25mm","T":200,"q":0.1},{"p":"c3","s":"25mm","T":177,"q":0.09},{"p":"c3","s":"25mm","T":174,"q":0.2},{"p":"c3","s":"25mm","T":165,"q":0.22},{"p":"c3","s":"25mm","T":151,"q":0.25},{"p":"c3","s":"25mm","T":126,"q":0.27},{"p":"c3","s":"25mm","T":120,"q":0.27},{"p":"c3","s":"25mm","T":118,"q":0.1},{"p":"c3","s":"25mm","T":110,"q":0.08},{"p":"c3","s":"25mm","T":91,"q":0.07},{"p":"c3","s":"25mm","T":60,"q":0.03},{"p":"c3","s":"25mm","T":30,"q":0.01},
{"p":"c3","s":"50mm","T":878,"q":0},{"p":"c3","s":"50mm","T":874,"q":0.02},{"p":"c3","s":"50mm","T":857,"q":0.05},{"p":"c3","s":"50mm","T":843,"q":0.07},{"p":"c3","s":"50mm","T":823,"q":0.31},{"p":"c3","s":"50mm","T":797,"q":0.72},{"p":"c3","s":"50mm","T":754,"q":0.98},{"p":"c3","s":"50mm","T":702,"q":1.14},{"p":"c3","s":"50mm","T":680,"q":1.17},{"p":"c3","s":"50mm","T":654,"q":1.16},{"p":"c3","s":"50mm","T":616,"q":1.11},{"p":"c3","s":"50mm","T":578,"q":1.01},{"p":"c3","s":"50mm","T":533,"q":0.86},{"p":"c3","s":"50mm","T":508,"q":0.75},{"p":"c3","s":"50mm","T":495,"q":0.7},{"p":"c3","s":"50mm","T":487,"q":0.62},{"p":"c3","s":"50mm","T":480,"q":0.5},{"p":"c3","s":"50mm","T":478,"q":0.42},{"p":"c3","s":"50mm","T":475,"q":0.35},{"p":"c3","s":"50mm","T":461,"q":0.31},{"p":"c3","s":"50mm","T":440,"q":0.24},{"p":"c3","s":"50mm","T":427,"q":0.23},{"p":"c3","s":"50mm","T":409,"q":0.22},{"p":"c3","s":"50mm","T":375,"q":0.18},{"p":"c3","s":"50mm","T":323,"q":0.16},{"p":"c3","s":"50mm","T":272,"q":0.13},{"p":"c3","s":"50mm","T":220,"q":0.1},{"p":"c3","s":"50mm","T":177,"q":0.07},{"p":"c3","s":"50mm","T":173,"q":0.16},{"p":"c3","s":"50mm","T":165,"q":0.1},{"p":"c3","s":"50mm","T":160,"q":0.1},{"p":"c3","s":"50mm","T":134,"q":0.08},{"p":"c3","s":"50mm","T":100,"q":0.04},{"p":"c3","s":"50mm","T":57,"q":0.01},{"p":"c3","s":"50mm","T":22,"q":0}
],
"M":[
{"p":"a1","s":"12.5mm","T":855,"q":0.01},{"p":"a1","s":"12.5mm","T":846,"q":0.03},{"p":"a1","s":"12.5mm","T":819,"q":0.36},{"p":"a1","s":"12.5mm","T":756,"q":0.41},{"p":"a1","s":"12.5mm","T":702,"q":0.36},{"p":"a1","s":"12.5mm","T":648,"q":0.35},{"p":"a1","s":"12.5mm","T":522,"q":1.28},{"p":"a1","s":"12.5mm","T":360,"q":0.8},{"p":"a1","s":"12.5mm","T":320,"q":0.6},{"p":"a1","s":"12.5mm","T":280,"q":0.45},{"p":"a1","s":"12.5mm","T":240,"q":0.29},{"p":"a1","s":"12.5mm","T":200,"q":0.15},{"p":"a1","s":"12.5mm","T":150,"q":0.06},
{"p":"a1","s":"25mm","T":895,"q":0.08},{"p":"a1","s":"25mm","T":855,"q":0.48},{"p":"a1","s":"25mm","T":783,"q":0.6},{"p":"a1","s":"25mm","T":729,"q":0.58},{"p":"a1","s":"25mm","T":684,"q":0.64},{"p":"a1","s":"25mm","T":621,"q":0.76},{"p":"a1","s":"25mm","T":468,"q":1.5},{"p":"a1","s":"25mm","T":378,"q":0.99},{"p":"a1","s":"25mm","T":365,"q":0.85},{"p":"a1","s":"25mm","T":351,"q":0.72},{"p":"a1","s":"25mm","T":340,"q":0.67},{"p":"a1","s":"25mm","T":330,"q":0.64},{"p":"a1","s":"25mm","T":320,"q":0.58},{"p":"a1","s":"25mm","T":310,"q":0.54},{"p":"a1","s":"25mm","T":300,"q":0.5},{"p":"a1","s":"25mm","T":290,"q":0.47},{"p":"a1","s":"25mm","T":280,"q":0.44},{"p":"a1","s":"25mm","T":270,"q":0.41},{"p":"a1","s":"25mm","T":260,"q":0.37},{"p":"a1","s":"25mm","T":250,"q":0.33},{"p":"a1","s":"25mm","T":240,"q":0.29},{"p":"a1","s":"25mm","T":230,"q":0.25},{"p":"a1","s":"25mm","T":220,"q":0.22},{"p":"a1","s":"25mm","T":210,"q":0.18},{"p":"a1","s":"25mm","T":200,"q":0.15},{"p":"a1","s":"25mm","T":190,"q":0.13},{"p":"a1","s":"25mm","T":180,"q":0.11},{"p":"a1","s":"25mm","T":170,"q":0.09},
{"p":"a1","s":"50mm","T":905,"q":0.01},{"p":"a1","s":"50mm","T":891,"q":0.1},{"p":"a1","s":"50mm","T":880,"q":0.12},{"p":"a1","s":"50mm","T":855,"q":0.4},{"p":"a1","s":"50mm","T":801,"q":0.52},{"p":"a1","s":"50mm","T":765,"q":0.52},{"p":"a1","s":"50mm","T":740,"q":0.52},{"p":"a1","s":"50mm","T":711,"q":0.5},{"p":"a1","s":"50mm","T":693,"q":0.54},{"p":"a1","s":"50mm","T":639,"q":1.02},{"p":"a1","s":"50mm","T":462,"q":1.52},{"p":"a1","s":"50mm","T":396,"q":1.15},{"p":"a1","s":"50mm","T":380,"q":1.03},{"p":"a1","s":"50mm","T":369,"q":0.95},{"p":"a1","s":"50mm","T":360,"q":0.9},{"p":"a1","s":"50mm","T":350,"q":0.85},{"p":"a1","s":"50mm","T":340,"q":0.8},{"p":"a1","s":"50mm","T":330,"q":0.74},{"p":"a1","s":"50mm","T":320,"q":0.68},{"p":"a1","s":"50mm","T":310,"q":0.62},{"p":"a1","s":"50mm","T":300,"q":0.56},{"p":"a1","s":"50mm","T":290,"q":0.52},{"p":"a1","s":"50mm","T":280,"q":0.48},{"p":"a1","s":"50mm","T":270,"q":0.45},{"p":"a1","s":"50mm","T":260,"q":0.4},{"p":"a1","s":"50mm","T":250,"q":0.35},{"p":"a1","s":"50mm","T":240,"q":0.3},{"p":"a1","s":"50mm","T":230,"q":0.26},{"p":"a1","s":"50mm","T":220,"q":0.22},{"p":"a1","s":"50mm","T":210,"q":0.19},{"p":"a1","s":"50mm","T":200,"q":0.16},{"p":"a1","s":"50mm","T":190,"q":0.13},{"p":"a1","s":"50mm","T":180,"q":0.11},{"p":"a1","s":"50mm","T":170,"q":0.09},{"p":"a1","s":"50mm","T":160,"q":0.07},{"p":"a1","s":"50mm","T":150,"q":0.06},{"p":"a1","s":"50mm","T":140,"q":0.05},{"p":"a1","s":"50mm","T":130,"q":0.04},{"p":"a1","s":"50mm","T":120,"q":0.04},{"p":"a1","s":"50mm","T":110,"q":0.03},{"p":"a1","s":"50mm","T":100,"q":0.03},{"p":"a1","s":"50mm","T":90,"q":0.02},{"p":"a1","s":"50mm","T":80,"q":0.02},{"p":"a1","s":"50mm","T":70,"q":0.02},{"p":"a1","s":"50mm","T":60,"q":0.01},{"p":"a1","s":"50mm","T":50,"q":0.01},{"p":"a1","s":"50mm","T":40,"q":0.01},{"p":"a1","s":"50mm","T":30,"q":0},

{"p":"a2","s":"12.5mm","T":872,"q":0},{"p":"a2","s":"12.5mm","T":865,"q":0.1},{"p":"a2","s":"12.5mm","T":857,"q":0.17},{"p":"a2","s":"12.5mm","T":797,"q":0.37},{"p":"a2","s":"12.5mm","T":745,"q":0.4},{"p":"a2","s":"12.5mm","T":564,"q":2.46},{"p":"a2","s":"12.5mm","T":233,"q":1.13},{"p":"a2","s":"12.5mm","T":181,"q":0.45},{"p":"a2","s":"12.5mm","T":120,"q":0.25},{"p":"a2","s":"12.5mm","T":100,"q":0.12},{"p":"a2","s":"12.5mm","T":85,"q":0.05},
{"p":"a2","s":"25mm","T":906,"q":0},{"p":"a2","s":"25mm","T":881,"q":0.11},{"p":"a2","s":"25mm","T":863,"q":0.34},{"p":"a2","s":"25mm","T":797,"q":0.68},{"p":"a2","s":"25mm","T":471,"q":3.25},{"p":"a2","s":"25mm","T":206,"q":1.81},{"p":"a2","s":"25mm","T":172,"q":1.08},{"p":"a2","s":"25mm","T":160,"q":0.9},{"p":"a2","s":"25mm","T":140,"q":0.6},{"p":"a2","s":"25mm","T":130,"q":0.52},{"p":"a2","s":"25mm","T":120,"q":0.5},{"p":"a2","s":"25mm","T":110,"q":0.48},{"p":"a2","s":"25mm","T":100,"q":0.45},{"p":"a2","s":"25mm","T":95,"q":0.38},{"p":"a2","s":"25mm","T":90,"q":0.3},{"p":"a2","s":"25mm","T":80,"q":0.18},
{"p":"a2","s":"50mm","T":937,"q":0},{"p":"a2","s":"50mm","T":930,"q":0.03},{"p":"a2","s":"50mm","T":919,"q":0.06},{"p":"a2","s":"50mm","T":905,"q":0.09},{"p":"a2","s":"50mm","T":891,"q":0.11},{"p":"a2","s":"50mm","T":844,"q":0.65},{"p":"a2","s":"50mm","T":507,"q":3.63},{"p":"a2","s":"50mm","T":247,"q":2.32},{"p":"a2","s":"50mm","T":200,"q":1.59},{"p":"a2","s":"50mm","T":181,"q":1.25},{"p":"a2","s":"50mm","T":170,"q":1.05},{"p":"a2","s":"50mm","T":163,"q":0.96},{"p":"a2","s":"50mm","T":155,"q":0.82},{"p":"a2","s":"50mm","T":145,"q":0.7},{"p":"a2","s":"50mm","T":135,"q":0.62},{"p":"a2","s":"50mm","T":125,"q":0.58},{"p":"a2","s":"50mm","T":115,"q":0.55},{"p":"a2","s":"50mm","T":105,"q":0.58},{"p":"a2","s":"50mm","T":98,"q":0.5},{"p":"a2","s":"50mm","T":90,"q":0.38},{"p":"a2","s":"50mm","T":82,"q":0.25},{"p":"a2","s":"50mm","T":75,"q":0.15},{"p":"a2","s":"50mm","T":68,"q":0.1},{"p":"a2","s":"50mm","T":60,"q":0.05},

{"p":"a3","s":"25mm","T":923,"q":0},{"p":"a3","s":"25mm","T":915,"q":0.05},{"p":"a3","s":"25mm","T":910,"q":0.09},{"p":"a3","s":"25mm","T":893,"q":0.17},{"p":"a3","s":"25mm","T":835,"q":0.53},{"p":"a3","s":"25mm","T":783,"q":0.57},{"p":"a3","s":"25mm","T":699,"q":0.71},{"p":"a3","s":"25mm","T":520,"q":1.49},{"p":"a3","s":"25mm","T":424,"q":1.13},{"p":"a3","s":"25mm","T":380,"q":0.66},{"p":"a3","s":"25mm","T":362,"q":0.53},{"p":"a3","s":"25mm","T":345,"q":0.47},{"p":"a3","s":"25mm","T":320,"q":0.4},{"p":"a3","s":"25mm","T":300,"q":0.3},{"p":"a3","s":"25mm","T":285,"q":0.22},{"p":"a3","s":"25mm","T":270,"q":0.17},
{"p":"a3","s":"50mm","T":932,"q":0},{"p":"a3","s":"50mm","T":918,"q":0.11},{"p":"a3","s":"50mm","T":905,"q":0.12},{"p":"a3","s":"50mm","T":861,"q":0.5},{"p":"a3","s":"50mm","T":826,"q":0.5},{"p":"a3","s":"50mm","T":791,"q":0.5},{"p":"a3","s":"50mm","T":774,"q":0.48},{"p":"a3","s":"50mm","T":742,"q":0.55},{"p":"a3","s":"50mm","T":634,"q":1.27},{"p":"a3","s":"50mm","T":529,"q":1.36},{"p":"a3","s":"50mm","T":462,"q":1.15},{"p":"a3","s":"50mm","T":432,"q":0.97},{"p":"a3","s":"50mm","T":415,"q":0.88},{"p":"a3","s":"50mm","T":400,"q":0.8},{"p":"a3","s":"50mm","T":389,"q":0.74},{"p":"a3","s":"50mm","T":375,"q":0.66},{"p":"a3","s":"50mm","T":365,"q":0.62},{"p":"a3","s":"50mm","T":354,"q":0.58},{"p":"a3","s":"50mm","T":345,"q":0.53},{"p":"a3","s":"50mm","T":335,"q":0.49},{"p":"a3","s":"50mm","T":325,"q":0.45},{"p":"a3","s":"50mm","T":315,"q":0.42},{"p":"a3","s":"50mm","T":305,"q":0.38},{"p":"a3","s":"50mm","T":295,"q":0.35},{"p":"a3","s":"50mm","T":284,"q":0.32},{"p":"a3","s":"50mm","T":275,"q":0.29},{"p":"a3","s":"50mm","T":265,"q":0.26},{"p":"a3","s":"50mm","T":255,"q":0.23},{"p":"a3","s":"50mm","T":245,"q":0.2},{"p":"a3","s":"50mm","T":235,"q":0.18},{"p":"a3","s":"50mm","T":225,"q":0.16},{"p":"a3","s":"50mm","T":215,"q":0.15},{"p":"a3","s":"50mm","T":205,"q":0.13},{"p":"a3","s":"50mm","T":196,"q":0.12},{"p":"a3","s":"50mm","T":185,"q":0.1},{"p":"a3","s":"50mm","T":175,"q":0.09},{"p":"a3","s":"50mm","T":165,"q":0.08},{"p":"a3","s":"50mm","T":155,"q":0.07},{"p":"a3","s":"50mm","T":145,"q":0.06},{"p":"a3","s":"50mm","T":135,"q":0.05},{"p":"a3","s":"50mm","T":125,"q":0.05},{"p":"a3","s":"50mm","T":115,"q":0.04},{"p":"a3","s":"50mm","T":105,"q":0.03},{"p":"a3","s":"50mm","T":95,"q":0.03},{"p":"a3","s":"50mm","T":85,"q":0.02},{"p":"a3","s":"50mm","T":78,"q":0.01},

{"p":"b1","s":"12.5mm","T":891,"q":0},{"p":"b1","s":"12.5mm","T":880,"q":0.02},{"p":"b1","s":"12.5mm","T":800,"q":0.54},{"p":"b1","s":"12.5mm","T":518,"q":1.15},{"p":"b1","s":"12.5mm","T":409,"q":0.64},{"p":"b1","s":"12.5mm","T":309,"q":0.52},{"p":"b1","s":"12.5mm","T":291,"q":0.22},{"p":"b1","s":"12.5mm","T":282,"q":0.11},{"p":"b1","s":"12.5mm","T":270,"q":0.1},{"p":"b1","s":"12.5mm","T":255,"q":0.1},{"p":"b1","s":"12.5mm","T":240,"q":0.09},{"p":"b1","s":"12.5mm","T":225,"q":0.07},{"p":"b1","s":"12.5mm","T":210,"q":0.05},{"p":"b1","s":"12.5mm","T":195,"q":0.03},
{"p":"b1","s":"25mm","T":880,"q":0},{"p":"b1","s":"25mm","T":873,"q":0.02},{"p":"b1","s":"25mm","T":855,"q":0.11},{"p":"b1","s":"25mm","T":736,"q":1.08},{"p":"b1","s":"25mm","T":545,"q":1.13},{"p":"b1","s":"25mm","T":455,"q":0.96},{"p":"b1","s":"25mm","T":409,"q":0.86},{"p":"b1","s":"25mm","T":395,"q":0.78},{"p":"b1","s":"25mm","T":382,"q":0.68},{"p":"b1","s":"25mm","T":373,"q":0.47},{"p":"b1","s":"25mm","T":364,"q":0.37},{"p":"b1","s":"25mm","T":345,"q":0.32},{"p":"b1","s":"25mm","T":318,"q":0.37},{"p":"b1","s":"25mm","T":300,"q":0.37},{"p":"b1","s":"25mm","T":285,"q":0.34},{"p":"b1","s":"25mm","T":270,"q":0.28},{"p":"b1","s":"25mm","T":255,"q":0.22},{"p":"b1","s":"25mm","T":240,"q":0.17},{"p":"b1","s":"25mm","T":225,"q":0.12},{"p":"b1","s":"25mm","T":210,"q":0.09},{"p":"b1","s":"25mm","T":195,"q":0.06},{"p":"b1","s":"25mm","T":180,"q":0.04},
{"p":"b1","s":"50mm","T":875,"q":0},{"p":"b1","s":"50mm","T":864,"q":0.02},{"p":"b1","s":"50mm","T":855,"q":0.09},{"p":"b1","s":"50mm","T":791,"q":0.7},{"p":"b1","s":"50mm","T":645,"q":0.9},{"p":"b1","s":"50mm","T":582,"q":0.82},{"p":"b1","s":"50mm","T":545,"q":0.72},{"p":"b1","s":"50mm","T":509,"q":0.81},{"p":"b1","s":"50mm","T":473,"q":0.92},{"p":"b1","s":"50mm","T":455,"q":0.9},{"p":"b1","s":"50mm","T":440,"q":0.86},{"p":"b1","s":"50mm","T":430,"q":0.82},{"p":"b1","s":"50mm","T":418,"q":0.79},{"p":"b1","s":"50mm","T":405,"q":0.72},{"p":"b1","s":"50mm","T":391,"q":0.65},{"p":"b1","s":"50mm","T":380,"q":0.62},{"p":"b1","s":"50mm","T":370,"q":0.59},{"p":"b1","s":"50mm","T":355,"q":0.56},{"p":"b1","s":"50mm","T":345,"q":0.55},{"p":"b1","s":"50mm","T":335,"q":0.55},{"p":"b1","s":"50mm","T":325,"q":0.54},{"p":"b1","s":"50mm","T":318,"q":0.54},{"p":"b1","s":"50mm","T":308,"q":0.55},{"p":"b1","s":"50mm","T":300,"q":0.56},{"p":"b1","s":"50mm","T":292,"q":0.55},{"p":"b1","s":"50mm","T":285,"q":0.54},{"p":"b1","s":"50mm","T":278,"q":0.53},{"p":"b1","s":"50mm","T":270,"q":0.52},{"p":"b1","s":"50mm","T":262,"q":0.49},{"p":"b1","s":"50mm","T":255,"q":0.45},{"p":"b1","s":"50mm","T":248,"q":0.4},{"p":"b1","s":"50mm","T":240,"q":0.35},{"p":"b1","s":"50mm","T":232,"q":0.3},{"p":"b1","s":"50mm","T":225,"q":0.25},{"p":"b1","s":"50mm","T":218,"q":0.2},{"p":"b1","s":"50mm","T":210,"q":0.15},{"p":"b1","s":"50mm","T":202,"q":0.11},{"p":"b1","s":"50mm","T":195,"q":0.09},{"p":"b1","s":"50mm","T":185,"q":0.06},{"p":"b1","s":"50mm","T":175,"q":0.04},{"p":"b1","s":"50mm","T":165,"q":0.03},

{"p":"b2","s":"12.5mm","T":900,"q":0},{"p":"b2","s":"12.5mm","T":800,"q":1.51},{"p":"b2","s":"12.5mm","T":327,"q":4.05},{"p":"b2","s":"12.5mm","T":151,"q":2.27},{"p":"b2","s":"12.5mm","T":145,"q":0.67},{"p":"b2","s":"12.5mm","T":115,"q":0.3},{"p":"b2","s":"12.5mm","T":85,"q":0.1},
{"p":"b2","s":"25mm","T":878,"q":0},{"p":"b2","s":"25mm","T":870,"q":0.1},{"p":"b2","s":"25mm","T":860,"q":0.14},{"p":"b2","s":"25mm","T":851,"q":0.23},{"p":"b2","s":"25mm","T":605,"q":1.56},{"p":"b2","s":"25mm","T":451,"q":1.69},{"p":"b2","s":"25mm","T":260,"q":3.69},{"p":"b2","s":"25mm","T":178,"q":2.98},{"p":"b2","s":"25mm","T":160,"q":2.27},{"p":"b2","s":"25mm","T":142,"q":1.69},{"p":"b2","s":"25mm","T":118,"q":1.47},{"p":"b2","s":"25mm","T":75,"q":1.8},
{"p":"b2","s":"50mm","T":870,"q":0.05},{"p":"b2","s":"50mm","T":860,"q":0.1},{"p":"b2","s":"50mm","T":855,"q":0.05},{"p":"b2","s":"50mm","T":850,"q":0.15},{"p":"b2","s":"50mm","T":845,"q":0.1},{"p":"b2","s":"50mm","T":602,"q":2.31},{"p":"b2","s":"50mm","T":415,"q":1.83},{"p":"b2","s":"50mm","T":396,"q":1.12},{"p":"b2","s":"50mm","T":369,"q":1.18},{"p":"b2","s":"50mm","T":336,"q":1.21},{"p":"b2","s":"50mm","T":310,"q":1.5},{"p":"b2","s":"50mm","T":300,"q":1.55},{"p":"b2","s":"50mm","T":290,"q":1.6},{"p":"b2","s":"50mm","T":280,"q":1.6},{"p":"b2","s":"50mm","T":270,"q":1.62},{"p":"b2","s":"50mm","T":260,"q":1.62},{"p":"b2","s":"50mm","T":250,"q":1.6},{"p":"b2","s":"50mm","T":240,"q":1.58},{"p":"b2","s":"50mm","T":230,"q":1.55},{"p":"b2","s":"50mm","T":220,"q":1.55},{"p":"b2","s":"50mm","T":210,"q":1.52},{"p":"b2","s":"50mm","T":200,"q":1.5},{"p":"b2","s":"50mm","T":190,"q":1.48},{"p":"b2","s":"50mm","T":180,"q":1.45},{"p":"b2","s":"50mm","T":170,"q":1.42},{"p":"b2","s":"50mm","T":160,"q":1.38},{"p":"b2","s":"50mm","T":150,"q":1.35},{"p":"b2","s":"50mm","T":140,"q":1.3},{"p":"b2","s":"50mm","T":130,"q":1.26},{"p":"b2","s":"50mm","T":120,"q":1.22},{"p":"b2","s":"50mm","T":110,"q":1.18},{"p":"b2","s":"50mm","T":100,"q":1.12},{"p":"b2","s":"50mm","T":90,"q":1.06},{"p":"b2","s":"50mm","T":80,"q":1.0},{"p":"b2","s":"50mm","T":72,"q":0.7},{"p":"b2","s":"50mm","T":68,"q":0.55},{"p":"b2","s":"50mm","T":65,"q":0.4},{"p":"b2","s":"50mm","T":62,"q":0.28},{"p":"b2","s":"50mm","T":58,"q":0.15},{"p":"b2","s":"50mm","T":55,"q":0.08},

{"p":"b3","s":"25mm","T":900,"q":0.02},{"p":"b3","s":"25mm","T":882,"q":0.08},{"p":"b3","s":"25mm","T":873,"q":0.1},{"p":"b3","s":"25mm","T":729,"q":1.48},{"p":"b3","s":"25mm","T":558,"q":1.32},{"p":"b3","s":"25mm","T":492,"q":0.97},{"p":"b3","s":"25mm","T":450,"q":0.84},{"p":"b3","s":"25mm","T":441,"q":0.74},{"p":"b3","s":"25mm","T":436,"q":0.6},{"p":"b3","s":"25mm","T":459,"q":0.3},{"p":"b3","s":"25mm","T":450,"q":0.33},{"p":"b3","s":"25mm","T":441,"q":0.37},{"p":"b3","s":"25mm","T":423,"q":0.45},{"p":"b3","s":"25mm","T":405,"q":0.43},{"p":"b3","s":"25mm","T":370,"q":0.38},{"p":"b3","s":"25mm","T":351,"q":0.36},{"p":"b3","s":"25mm","T":333,"q":0.4},{"p":"b3","s":"25mm","T":315,"q":0.6},{"p":"b3","s":"25mm","T":306,"q":0.57},{"p":"b3","s":"25mm","T":298,"q":0.54},{"p":"b3","s":"25mm","T":290,"q":0.52},{"p":"b3","s":"25mm","T":279,"q":0.48},{"p":"b3","s":"25mm","T":270,"q":0.46},{"p":"b3","s":"25mm","T":262,"q":0.42},{"p":"b3","s":"25mm","T":252,"q":0.38},{"p":"b3","s":"25mm","T":243,"q":0.34},{"p":"b3","s":"25mm","T":234,"q":0.3},{"p":"b3","s":"25mm","T":225,"q":0.26},{"p":"b3","s":"25mm","T":216,"q":0.23},{"p":"b3","s":"25mm","T":207,"q":0.2},{"p":"b3","s":"25mm","T":198,"q":0.18},{"p":"b3","s":"25mm","T":190,"q":0.16},{"p":"b3","s":"25mm","T":180,"q":0.14},{"p":"b3","s":"25mm","T":171,"q":0.12},{"p":"b3","s":"25mm","T":160,"q":0.1},
{"p":"b3","s":"50mm","T":900,"q":0},{"p":"b3","s":"50mm","T":891,"q":0.05},{"p":"b3","s":"50mm","T":882,"q":0.08},{"p":"b3","s":"50mm","T":864,"q":0.14},{"p":"b3","s":"50mm","T":779,"q":1.04},{"p":"b3","s":"50mm","T":643,"q":1.2},{"p":"b3","s":"50mm","T":610,"q":0.89},{"p":"b3","s":"50mm","T":558,"q":0.89},{"p":"b3","s":"50mm","T":531,"q":0.82},{"p":"b3","s":"50mm","T":504,"q":0.92},{"p":"b3","s":"50mm","T":480,"q":0.97},{"p":"b3","s":"50mm","T":470,"q":0.98},{"p":"b3","s":"50mm","T":459,"q":0.97},{"p":"b3","s":"50mm","T":450,"q":0.95},{"p":"b3","s":"50mm","T":440,"q":0.93},{"p":"b3","s":"50mm","T":430,"q":0.9},{"p":"b3","s":"50mm","T":420,"q":0.88},{"p":"b3","s":"50mm","T":410,"q":0.85},{"p":"b3","s":"50mm","T":400,"q":0.8},{"p":"b3","s":"50mm","T":390,"q":0.77},{"p":"b3","s":"50mm","T":380,"q":0.75},{"p":"b3","s":"50mm","T":370,"q":0.72},{"p":"b3","s":"50mm","T":360,"q":0.69},{"p":"b3","s":"50mm","T":350,"q":0.67},{"p":"b3","s":"50mm","T":340,"q":0.65},{"p":"b3","s":"50mm","T":330,"q":0.64},{"p":"b3","s":"50mm","T":320,"q":0.63},{"p":"b3","s":"50mm","T":310,"q":0.62},{"p":"b3","s":"50mm","T":300,"q":0.62},{"p":"b3","s":"50mm","T":290,"q":0.62},{"p":"b3","s":"50mm","T":280,"q":0.62},{"p":"b3","s":"50mm","T":270,"q":0.6},{"p":"b3","s":"50mm","T":260,"q":0.57},{"p":"b3","s":"50mm","T":250,"q":0.53},{"p":"b3","s":"50mm","T":240,"q":0.49},{"p":"b3","s":"50mm","T":230,"q":0.45},{"p":"b3","s":"50mm","T":220,"q":0.41},{"p":"b3","s":"50mm","T":210,"q":0.36},{"p":"b3","s":"50mm","T":200,"q":0.31},{"p":"b3","s":"50mm","T":190,"q":0.26},{"p":"b3","s":"50mm","T":180,"q":0.21},{"p":"b3","s":"50mm","T":170,"q":0.17},{"p":"b3","s":"50mm","T":160,"q":0.14},{"p":"b3","s":"50mm","T":150,"q":0.11},{"p":"b3","s":"50mm","T":140,"q":0.1},{"p":"b3","s":"50mm","T":130,"q":0.08},{"p":"b3","s":"50mm","T":120,"q":0.07},{"p":"b3","s":"50mm","T":110,"q":0.06},{"p":"b3","s":"50mm","T":100,"q":0.05},{"p":"b3","s":"50mm","T":90,"q":0.05},{"p":"b3","s":"50mm","T":80,"q":0.04},{"p":"b3","s":"50mm","T":70,"q":0.04},{"p":"b3","s":"50mm","T":60,"q":0.03},{"p":"b3","s":"50mm","T":50,"q":0.03},{"p":"b3","s":"50mm","T":40,"q":0.02},{"p":"b3","s":"50mm","T":30,"q":0.02},

{"p":"c1","s":"12.5mm","T":895,"q":0.03},{"p":"c1","s":"12.5mm","T":784,"q":0.92},{"p":"c1","s":"12.5mm","T":475,"q":0.66},{"p":"c1","s":"12.5mm","T":389,"q":0.26},{"p":"c1","s":"12.5mm","T":175,"q":0.22},{"p":"c1","s":"12.5mm","T":165,"q":0.27},{"p":"c1","s":"12.5mm","T":155,"q":0.25},
{"p":"c1","s":"25mm","T":900,"q":0},{"p":"c1","s":"25mm","T":882,"q":0.03},{"p":"c1","s":"25mm","T":742,"q":0.12},{"p":"c1","s":"25mm","T":551,"q":1.13},{"p":"c1","s":"25mm","T":457,"q":0.73},{"p":"c1","s":"25mm","T":389,"q":0.51},{"p":"c1","s":"25mm","T":375,"q":0.32},{"p":"c1","s":"25mm","T":353,"q":0.23},{"p":"c1","s":"25mm","T":340,"q":0.21},{"p":"c1","s":"25mm","T":320,"q":0.19},{"p":"c1","s":"25mm","T":300,"q":0.17},{"p":"c1","s":"25mm","T":280,"q":0.15},{"p":"c1","s":"25mm","T":260,"q":0.14},{"p":"c1","s":"25mm","T":240,"q":0.13},{"p":"c1","s":"25mm","T":220,"q":0.11},{"p":"c1","s":"25mm","T":200,"q":0.1},{"p":"c1","s":"25mm","T":175,"q":0.25},{"p":"c1","s":"25mm","T":170,"q":0.32},{"p":"c1","s":"25mm","T":165,"q":0.38},{"p":"c1","s":"25mm","T":160,"q":0.42},{"p":"c1","s":"25mm","T":155,"q":0.4},{"p":"c1","s":"25mm","T":150,"q":0.35},{"p":"c1","s":"25mm","T":145,"q":0.3},{"p":"c1","s":"25mm","T":142,"q":0.22},
{"p":"c1","s":"50mm","T":895,"q":-0.04},{"p":"c1","s":"50mm","T":891,"q":0.02},{"p":"c1","s":"50mm","T":877,"q":0.09},{"p":"c1","s":"50mm","T":805,"q":0.75},{"p":"c1","s":"50mm","T":595,"q":1.01},{"p":"c1","s":"50mm","T":515,"q":0.77},{"p":"c1","s":"50mm","T":479,"q":0.6},{"p":"c1","s":"50mm","T":461,"q":0.47},{"p":"c1","s":"50mm","T":452,"q":0.42},{"p":"c1","s":"50mm","T":447,"q":0.38},{"p":"c1","s":"50mm","T":440,"q":0.34},{"p":"c1","s":"50mm","T":434,"q":0.3},{"p":"c1","s":"50mm","T":428,"q":0.26},{"p":"c1","s":"50mm","T":421,"q":0.23},{"p":"c1","s":"50mm","T":416,"q":0.16},{"p":"c1","s":"50mm","T":410,"q":0.16},{"p":"c1","s":"50mm","T":400,"q":0.16},{"p":"c1","s":"50mm","T":390,"q":0.17},{"p":"c1","s":"50mm","T":380,"q":0.17},{"p":"c1","s":"50mm","T":370,"q":0.18},{"p":"c1","s":"50mm","T":360,"q":0.18},{"p":"c1","s":"50mm","T":350,"q":0.18},{"p":"c1","s":"50mm","T":340,"q":0.17},{"p":"c1","s":"50mm","T":330,"q":0.16},{"p":"c1","s":"50mm","T":320,"q":0.15},{"p":"c1","s":"50mm","T":310,"q":0.14},{"p":"c1","s":"50mm","T":300,"q":0.13},{"p":"c1","s":"50mm","T":290,"q":0.12},{"p":"c1","s":"50mm","T":280,"q":0.11},{"p":"c1","s":"50mm","T":270,"q":0.1},{"p":"c1","s":"50mm","T":260,"q":0.1},{"p":"c1","s":"50mm","T":250,"q":0.09},{"p":"c1","s":"50mm","T":240,"q":0.09},{"p":"c1","s":"50mm","T":230,"q":0.08},{"p":"c1","s":"50mm","T":220,"q":0.08},{"p":"c1","s":"50mm","T":210,"q":0.07},{"p":"c1","s":"50mm","T":200,"q":0.07},{"p":"c1","s":"50mm","T":190,"q":0.06},{"p":"c1","s":"50mm","T":180,"q":-0.03},{"p":"c1","s":"50mm","T":176,"q":0.2},{"p":"c1","s":"50mm","T":170,"q":0.25},{"p":"c1","s":"50mm","T":160,"q":0.18},{"p":"c1","s":"50mm","T":150,"q":0.1},{"p":"c1","s":"50mm","T":140,"q":0.08},{"p":"c1","s":"50mm","T":130,"q":0.07},{"p":"c1","s":"50mm","T":120,"q":0.06},{"p":"c1","s":"50mm","T":110,"q":0.05},{"p":"c1","s":"50mm","T":100,"q":0.05},{"p":"c1","s":"50mm","T":90,"q":0.05},{"p":"c1","s":"50mm","T":80,"q":0.04},{"p":"c1","s":"50mm","T":70,"q":0.04},{"p":"c1","s":"50mm","T":60,"q":0.04},{"p":"c1","s":"50mm","T":50,"q":0.04},{"p":"c1","s":"50mm","T":40,"q":0.04},

{"p":"c2","s":"12.5mm","T":887,"q":0.05},{"p":"c2","s":"12.5mm","T":625,"q":2.95},{"p":"c2","s":"12.5mm","T":194,"q":1.79},{"p":"c2","s":"12.5mm","T":145,"q":0.97},{"p":"c2","s":"12.5mm","T":120,"q":0.82},{"p":"c2","s":"12.5mm","T":110,"q":0.65},{"p":"c2","s":"12.5mm","T":100,"q":0.45},{"p":"c2","s":"12.5mm","T":92,"q":0.3},{"p":"c2","s":"12.5mm","T":85,"q":0.2},{"p":"c2","s":"12.5mm","T":78,"q":0.12},{"p":"c2","s":"12.5mm","T":70,"q":0.07},{"p":"c2","s":"12.5mm","T":62,"q":0.04},
{"p":"c2","s":"25mm","T":905,"q":0},{"p":"c2","s":"25mm","T":887,"q":0.02},{"p":"c2","s":"25mm","T":643,"q":1.86},{"p":"c2","s":"25mm","T":396,"q":1.45},{"p":"c2","s":"25mm","T":292,"q":1.12},{"p":"c2","s":"25mm","T":190,"q":0.82},{"p":"c2","s":"25mm","T":140,"q":1.3},{"p":"c2","s":"25mm","T":125,"q":1.3},{"p":"c2","s":"25mm","T":95,"q":1.4},{"p":"c2","s":"25mm","T":78,"q":0.9},{"p":"c2","s":"25mm","T":74,"q":0.4},{"p":"c2","s":"25mm","T":70,"q":0.1},
{"p":"c2","s":"50mm","T":905,"q":-0.03},{"p":"c2","s":"50mm","T":891,"q":0.02},{"p":"c2","s":"50mm","T":878,"q":0.08},{"p":"c2","s":"50mm","T":870,"q":0.12},{"p":"c2","s":"50mm","T":865,"q":0.15},{"p":"c2","s":"50mm","T":858,"q":0.1},{"p":"c2","s":"50mm","T":851,"q":0.08},{"p":"c2","s":"50mm","T":658,"q":1.61},{"p":"c2","s":"50mm","T":484,"q":1.28},{"p":"c2","s":"50mm","T":396,"q":1.1},{"p":"c2","s":"50mm","T":301,"q":1.33},{"p":"c2","s":"50mm","T":155,"q":1.95},{"p":"c2","s":"50mm","T":150,"q":1.9},{"p":"c2","s":"50mm","T":90,"q":2.85},{"p":"c2","s":"50mm","T":80,"q":2.4},{"p":"c2","s":"50mm","T":75,"q":1.9},{"p":"c2","s":"50mm","T":70,"q":1.4},{"p":"c2","s":"50mm","T":67,"q":1.15},{"p":"c2","s":"50mm","T":65,"q":0.9},{"p":"c2","s":"50mm","T":62,"q":0.7},{"p":"c2","s":"50mm","T":60,"q":0.5},{"p":"c2","s":"50mm","T":57,"q":0.3},{"p":"c2","s":"50mm","T":55,"q":0.2},{"p":"c2","s":"50mm","T":52,"q":0.1},{"p":"c2","s":"50mm","T":50,"q":0.05},

{"p":"c3","s":"25mm","T":871,"q":0.03},{"p":"c3","s":"25mm","T":860,"q":0.09},{"p":"c3","s":"25mm","T":840,"q":0.32},{"p":"c3","s":"25mm","T":707,"q":1.03},{"p":"c3","s":"25mm","T":599,"q":1.03},{"p":"c3","s":"25mm","T":530,"q":0.88},{"p":"c3","s":"25mm","T":487,"q":0.66},{"p":"c3","s":"25mm","T":478,"q":0.57},{"p":"c3","s":"25mm","T":470,"q":0.49},{"p":"c3","s":"25mm","T":461,"q":0.38},{"p":"c3","s":"25mm","T":452,"q":0.37},{"p":"c3","s":"25mm","T":444,"q":0.35},{"p":"c3","s":"25mm","T":430,"q":0.29},{"p":"c3","s":"25mm","T":420,"q":0.26},{"p":"c3","s":"25mm","T":410,"q":0.25},{"p":"c3","s":"25mm","T":400,"q":0.25},{"p":"c3","s":"25mm","T":390,"q":0.24},{"p":"c3","s":"25mm","T":375,"q":0.24},{"p":"c3","s":"25mm","T":360,"q":0.24},{"p":"c3","s":"25mm","T":345,"q":0.23},{"p":"c3","s":"25mm","T":330,"q":0.21},{"p":"c3","s":"25mm","T":315,"q":0.19},{"p":"c3","s":"25mm","T":300,"q":0.17},{"p":"c3","s":"25mm","T":285,"q":0.16},{"p":"c3","s":"25mm","T":270,"q":0.15},{"p":"c3","s":"25mm","T":255,"q":0.14},{"p":"c3","s":"25mm","T":240,"q":0.13},{"p":"c3","s":"25mm","T":225,"q":0.12},{"p":"c3","s":"25mm","T":210,"q":0.11},{"p":"c3","s":"25mm","T":195,"q":0.1},{"p":"c3","s":"25mm","T":172,"q":0.2},{"p":"c3","s":"25mm","T":165,"q":0.22},{"p":"c3","s":"25mm","T":158,"q":0.24},{"p":"c3","s":"25mm","T":150,"q":0.25},{"p":"c3","s":"25mm","T":140,"q":0.26},{"p":"c3","s":"25mm","T":130,"q":0.27},{"p":"c3","s":"25mm","T":122,"q":0.27},
{"p":"c3","s":"50mm","T":878,"q":0},{"p":"c3","s":"50mm","T":874,"q":0.02},{"p":"c3","s":"50mm","T":857,"q":0.05},{"p":"c3","s":"50mm","T":843,"q":0.07},{"p":"c3","s":"50mm","T":797,"q":0.72},{"p":"c3","s":"50mm","T":654,"q":1.16},{"p":"c3","s":"50mm","T":578,"q":1.01},{"p":"c3","s":"50mm","T":533,"q":0.86},{"p":"c3","s":"50mm","T":520,"q":0.8},{"p":"c3","s":"50mm","T":508,"q":0.75},{"p":"c3","s":"50mm","T":495,"q":0.7},{"p":"c3","s":"50mm","T":487,"q":0.62},{"p":"c3","s":"50mm","T":483,"q":0.55},{"p":"c3","s":"50mm","T":480,"q":0.48},{"p":"c3","s":"50mm","T":478,"q":0.42},{"p":"c3","s":"50mm","T":475,"q":0.36},{"p":"c3","s":"50mm","T":470,"q":0.33},{"p":"c3","s":"50mm","T":461,"q":0.31},{"p":"c3","s":"50mm","T":450,"q":0.27},{"p":"c3","s":"50mm","T":440,"q":0.24},{"p":"c3","s":"50mm","T":430,"q":0.22},{"p":"c3","s":"50mm","T":420,"q":0.22},{"p":"c3","s":"50mm","T":410,"q":0.21},{"p":"c3","s":"50mm","T":400,"q":0.2},{"p":"c3","s":"50mm","T":390,"q":0.19},{"p":"c3","s":"50mm","T":380,"q":0.18},{"p":"c3","s":"50mm","T":370,"q":0.18},{"p":"c3","s":"50mm","T":360,"q":0.17},{"p":"c3","s":"50mm","T":350,"q":0.17},{"p":"c3","s":"50mm","T":340,"q":0.16},{"p":"c3","s":"50mm","T":330,"q":0.16},{"p":"c3","s":"50mm","T":320,"q":0.15},{"p":"c3","s":"50mm","T":310,"q":0.15},{"p":"c3","s":"50mm","T":300,"q":0.14},{"p":"c3","s":"50mm","T":290,"q":0.14},{"p":"c3","s":"50mm","T":280,"q":0.13},{"p":"c3","s":"50mm","T":270,"q":0.13},{"p":"c3","s":"50mm","T":260,"q":0.12},{"p":"c3","s":"50mm","T":250,"q":0.12},{"p":"c3","s":"50mm","T":240,"q":0.11},{"p":"c3","s":"50mm","T":230,"q":0.11},{"p":"c3","s":"50mm","T":220,"q":0.1},{"p":"c3","s":"50mm","T":210,"q":0.1},{"p":"c3","s":"50mm","T":200,"q":0.09},{"p":"c3","s":"50mm","T":190,"q":0.08},{"p":"c3","s":"50mm","T":180,"q":0.07},{"p":"c3","s":"50mm","T":173,"q":0.16},{"p":"c3","s":"50mm","T":165,"q":0.1},{"p":"c3","s":"50mm","T":155,"q":0.1},{"p":"c3","s":"50mm","T":145,"q":0.09},{"p":"c3","s":"50mm","T":135,"q":0.08},{"p":"c3","s":"50mm","T":125,"q":0.07},{"p":"c3","s":"50mm","T":115,"q":0.06},{"p":"c3","s":"50mm","T":105,"q":0.05},{"p":"c3","s":"50mm","T":95,"q":0.04},{"p":"c3","s":"50mm","T":85,"q":0.03},{"p":"c3","s":"50mm","T":75,"q":0.02}
]
},
"concat":[
{"width":80,"height":125,"view":{"stroke":null},"data":{"values":[{"name":"SS 304"}]},"mark":{"type":"text","font":"Liberation Serif","fontSize":17,"fontWeight":"bold","align":"right","baseline":"middle","color":"black"},"encoding":{"text":{"field":"name"},"x":{"value":"width"}}},
{"width":170,"height":125,"title":{"text":"Mineral oil"},"layer":[
{"data":{"name":"L"},"transform":[{"filter":"datum.p=='a1'"}],"mark":{"type":"line","strokeWidth":1,"clip":true},"encoding":{"x":{"field":"T","type":"quantitative","scale":{"domain":[22,945],"reverse":true,"nice":false,"zero":false},"axis":{"values":[900,800,700,600,500,400,300,200,100],"format":"d","tickCount":30,"labelOverlap":false,"labelFlush":false,"title":"Probe surface temperature (°C)"}},"y":{"field":"q","type":"quantitative","scale":{"domain":[-0.03,1.7],"nice":false,"zero":false},"axis":{"values":[0,0.2,0.4,0.6,0.8,1.0,1.2,1.4,1.6],"tickCount":30,"labelOverlap":false,"format":".1f","title":"Heat flux (MW/m²)"}},"color":{"field":"s","type":"nominal","scale":{"domain":["12.5mm","25mm","50mm"],"range":["#000000","#ff0000","#0000ff"]},"legend":{"orient":"none","legendX":106,"legendY":5,"title":null}},"order":{"value":null}}},
{"data":{"name":"M"},"transform":[{"filter":"datum.p=='a1'"}],"mark":{"type":"point","filled":true,"size":18,"opacity":1,"clip":true},"encoding":{"x":{"field":"T","type":"quantitative"},"y":{"field":"q","type":"quantitative"},"color":{"field":"s","type":"nominal"},"shape":{"field":"s","type":"nominal","scale":{"domain":["12.5mm","25mm","50mm"],"range":["square","circle","triangle-up"]},"legend":{"orient":"none","legendX":106,"legendY":5,"title":null}}}}
]},
{"width":167,"height":125,"title":{"text":"Water"},"layer":[
{"data":{"name":"L"},"transform":[{"filter":"datum.p=='a2'"}],"mark":{"type":"line","strokeWidth":1,"clip":true},"encoding":{"x":{"field":"T","type":"quantitative","scale":{"domain":[55,1000],"reverse":true,"nice":false,"zero":false},"axis":{"values":[1000,900,800,700,600,500,400,300,200,100],"format":"d","tickCount":30,"labelOverlap":false,"labelFlush":false,"title":"Probe surface temperature (°C)"}},"y":{"field":"q","type":"quantitative","scale":{"domain":[-0.2,4.02],"nice":false,"zero":false},"axis":{"values":[0,0.5,1.0,1.5,2.0,2.5,3.0,3.5,4.0],"tickCount":30,"labelOverlap":false,"format":".1f","title":"Heat flux (MW/m²)"}},"color":{"field":"s","type":"nominal","scale":{"domain":["12.5mm","25mm","50mm"],"range":["#000000","#ff0000","#0000ff"]},"legend":{"orient":"none","legendX":19,"legendY":8,"title":null}},"order":{"value":null}}},
{"data":{"name":"M"},"transform":[{"filter":"datum.p=='a2'"}],"mark":{"type":"point","filled":true,"size":18,"opacity":1,"clip":true},"encoding":{"x":{"field":"T","type":"quantitative"},"y":{"field":"q","type":"quantitative"},"color":{"field":"s","type":"nominal"},"shape":{"field":"s","type":"nominal","scale":{"domain":["12.5mm","25mm","50mm"],"range":["square","circle","triangle-up"]},"legend":{"orient":"none","legendX":19,"legendY":8,"title":null}}}}
]},
{"width":165,"height":125,"title":{"text":"Mineral oil with agitation","dx":-9},"layer":[
{"data":{"name":"L"},"transform":[{"filter":"datum.p=='a3'"}],"mark":{"type":"line","strokeWidth":1,"clip":true},"encoding":{"x":{"field":"T","type":"quantitative","scale":{"domain":[75,942],"reverse":true,"nice":false,"zero":false},"axis":{"values":[900,800,700,600,500,400,300,200,100],"format":"d","tickCount":30,"labelOverlap":false,"labelFlush":false,"title":"Probe surface temperature (°C)"}},"y":{"field":"q","type":"quantitative","scale":{"domain":[-0.09,1.84],"nice":false,"zero":false},"axis":{"values":[0,0.2,0.4,0.6,0.8,1.0,1.2,1.4,1.6,1.8],"tickCount":30,"labelOverlap":false,"format":".1f","title":"Heat flux (MW/m²)"}},"color":{"field":"s","type":"nominal","scale":{"domain":["25mm","50mm"],"range":["#000000","#ff0000"]},"legend":{"orient":"none","legendX":110,"legendY":11,"title":null}},"order":{"value":null}}},
{"data":{"name":"M"},"transform":[{"filter":"datum.p=='a3'"}],"mark":{"type":"point","filled":true,"size":18,"opacity":1,"clip":true},"encoding":{"x":{"field":"T","type":"quantitative"},"y":{"field":"q","type":"quantitative"},"color":{"field":"s","type":"nominal"},"shape":{"field":"s","type":"nominal","scale":{"domain":["25mm","50mm"],"range":["square","circle"]},"legend":{"orient":"none","legendX":110,"legendY":11,"title":null}}}}
]},

{"width":80,"height":125,"view":{"stroke":null},"data":{"values":[{"name":"AISI 1045"}]},"mark":{"type":"text","font":"Liberation Serif","fontSize":17,"fontWeight":"bold","align":"right","baseline":"middle","color":"black"},"encoding":{"text":{"field":"name"},"x":{"value":"width"}}},
{"width":170,"height":125,"layer":[
{"data":{"name":"L"},"transform":[{"filter":"datum.p=='b1'"}],"mark":{"type":"line","strokeWidth":1,"clip":true},"encoding":{"x":{"field":"T","type":"quantitative","scale":{"domain":[28,955],"reverse":true,"nice":false,"zero":false},"axis":{"values":[900,800,700,600,500,400,300,200,100],"format":"d","tickCount":30,"labelOverlap":false,"labelFlush":false,"title":"Probe surface temperature (°C)"}},"y":{"field":"q","type":"quantitative","scale":{"domain":[-0.045,1.69],"nice":false,"zero":false},"axis":{"values":[0,0.2,0.4,0.6,0.8,1.0,1.2,1.4,1.6],"tickCount":30,"labelOverlap":false,"format":".1f","title":"Heat flux (MW/m²)"}},"color":{"field":"s","type":"nominal","scale":{"domain":["12.5mm","25mm","50mm"],"range":["#000000","#ff0000","#0000ff"]},"legend":{"orient":"none","legendX":106,"legendY":15,"title":null}},"order":{"value":null}}},
{"data":{"name":"M"},"transform":[{"filter":"datum.p=='b1'"}],"mark":{"type":"point","filled":true,"size":18,"opacity":1,"clip":true},"encoding":{"x":{"field":"T","type":"quantitative"},"y":{"field":"q","type":"quantitative"},"color":{"field":"s","type":"nominal"},"shape":{"field":"s","type":"nominal","scale":{"domain":["12.5mm","25mm","50mm"],"range":["square","circle","triangle-up"]},"legend":{"orient":"none","legendX":106,"legendY":15,"title":null}}}}
]},
{"width":167,"height":125,"layer":[
{"data":{"name":"L"},"transform":[{"filter":"datum.p=='b2'"}],"mark":{"type":"line","strokeWidth":1,"clip":true},"encoding":{"x":{"field":"T","type":"quantitative","scale":{"domain":[20,927],"reverse":true,"nice":false,"zero":false},"axis":{"values":[900,800,700,600,500,400,300,200,100],"format":"d","tickCount":30,"labelOverlap":false,"labelFlush":false,"title":"Probe surface temperature (°C)"}},"y":{"field":"q","type":"quantitative","scale":{"domain":[-0.37,6.44],"nice":false,"zero":false},"axis":{"values":[0,1,2,3,4,5,6],"tickCount":30,"labelOverlap":false,"format":"d","title":"Heat flux (MW/m²)"}},"color":{"field":"s","type":"nominal","scale":{"domain":["12.5mm","25mm","50mm"],"range":["#000000","#ff0000","#0000ff"]},"legend":{"orient":"none","legendX":19,"legendY":6,"title":null}},"order":{"value":null}}},
{"data":{"name":"M"},"transform":[{"filter":"datum.p=='b2'"}],"mark":{"type":"point","filled":true,"size":18,"opacity":1,"clip":true},"encoding":{"x":{"field":"T","type":"quantitative"},"y":{"field":"q","type":"quantitative"},"color":{"field":"s","type":"nominal"},"shape":{"field":"s","type":"nominal","scale":{"domain":["12.5mm","25mm","50mm"],"range":["square","circle","triangle-up"]},"legend":{"orient":"none","legendX":19,"legendY":6,"title":null}}}}
]},
{"width":165,"height":125,"layer":[
{"data":{"name":"L"},"transform":[{"filter":"datum.p=='b3'"}],"mark":{"type":"line","strokeWidth":1,"clip":true},"encoding":{"x":{"field":"T","type":"quantitative","scale":{"domain":[30,926],"reverse":true,"nice":false,"zero":false},"axis":{"values":[900,800,700,600,500,400,300,200,100],"format":"d","tickCount":30,"labelOverlap":false,"labelFlush":false,"title":"Probe surface temperature (°C)"}},"y":{"field":"q","type":"quantitative","scale":{"domain":[-0.14,1.83],"nice":false,"zero":false},"axis":{"values":[0,0.2,0.4,0.6,0.8,1.0,1.2,1.4,1.6,1.8],"tickCount":30,"labelOverlap":false,"format":".1f","title":"Heat flux (MW/m²)"}},"color":{"field":"s","type":"nominal","scale":{"domain":["25mm","50mm"],"range":["#000000","#ff0000"]},"legend":{"orient":"none","legendX":105,"legendY":19,"title":null}},"order":{"value":null}}},
{"data":{"name":"M"},"transform":[{"filter":"datum.p=='b3'"}],"mark":{"type":"point","filled":true,"size":18,"opacity":1,"clip":true},"encoding":{"x":{"field":"T","type":"quantitative"},"y":{"field":"q","type":"quantitative"},"color":{"field":"s","type":"nominal"},"shape":{"field":"s","type":"nominal","scale":{"domain":["25mm","50mm"],"range":["square","circle"]},"legend":{"orient":"none","legendX":105,"legendY":19,"title":null}}}}
]},

{"width":80,"height":125,"view":{"stroke":null},"data":{"values":[{"name":"AISI 52100"}]},"mark":{"type":"text","font":"Liberation Serif","fontSize":17,"fontWeight":"bold","align":"right","baseline":"middle","color":"black"},"encoding":{"text":{"field":"name"},"x":{"value":"width"}}},
{"width":170,"height":125,"layer":[
{"data":{"name":"L"},"transform":[{"filter":"datum.p=='c1'"}],"mark":{"type":"line","strokeWidth":1,"clip":true},"encoding":{"x":{"field":"T","type":"quantitative","scale":{"domain":[14,927],"reverse":true,"nice":false,"zero":false},"axis":{"values":[900,800,700,600,500,400,300,200,100],"format":"d","tickCount":30,"labelOverlap":false,"labelFlush":false,"title":"Probe surface temperature (°C)"}},"y":{"field":"q","type":"quantitative","scale":{"domain":[-0.09,1.31],"nice":false,"zero":false},"axis":{"values":[0,0.2,0.4,0.6,0.8,1.0,1.2],"tickCount":30,"labelOverlap":false,"format":".1f","title":"Heat flux (MW/m²)"}},"color":{"field":"s","type":"nominal","scale":{"domain":["12.5mm","25mm","50mm"],"range":["#000000","#ff0000","#0000ff"]},"legend":{"orient":"none","legendX":106,"legendY":9,"title":null}},"order":{"value":null}}},
{"data":{"name":"M"},"transform":[{"filter":"datum.p=='c1'"}],"mark":{"type":"point","filled":true,"size":18,"opacity":1,"clip":true},"encoding":{"x":{"field":"T","type":"quantitative"},"y":{"field":"q","type":"quantitative"},"color":{"field":"s","type":"nominal"},"shape":{"field":"s","type":"nominal","scale":{"domain":["12.5mm","25mm","50mm"],"range":["square","circle","triangle-up"]},"legend":{"orient":"none","legendX":106,"legendY":9,"title":null}}}}
]},
{"width":167,"height":125,"layer":[
{"data":{"name":"L"},"transform":[{"filter":"datum.p=='c2'"}],"mark":{"type":"line","strokeWidth":1,"clip":true},"encoding":{"x":{"field":"T","type":"quantitative","scale":{"domain":[15,933],"reverse":true,"nice":false,"zero":false},"axis":{"values":[900,800,700,600,500,400,300,200,100],"format":"d","tickCount":30,"labelOverlap":false,"labelFlush":false,"title":"Probe surface temperature (°C)"}},"y":{"field":"q","type":"quantitative","scale":{"domain":[-0.18,3.78],"nice":false,"zero":false},"axis":{"values":[0,0.5,1.0,1.5,2.0,2.5,3.0,3.5],"tickCount":30,"labelOverlap":false,"format":".1f","title":"Heat flux (MW/m²)"}},"color":{"field":"s","type":"nominal","scale":{"domain":["12.5mm","25mm","50mm"],"range":["#000000","#ff0000","#0000ff"]},"legend":{"orient":"none","legendX":136,"legendY":8,"title":null}},"order":{"value":null}}},
{"data":{"name":"M"},"transform":[{"filter":"datum.p=='c2'"}],"mark":{"type":"point","filled":true,"size":18,"opacity":1,"clip":true},"encoding":{"x":{"field":"T","type":"quantitative"},"y":{"field":"q","type":"quantitative"},"color":{"field":"s","type":"nominal"},"shape":{"field":"s","type":"nominal","scale":{"domain":["12.5mm","25mm","50mm"],"range":["square","circle","triangle-up"]},"legend":{"orient":"none","legendX":136,"legendY":8,"title":null}}}}
]},
{"width":165,"height":125,"layer":[
{"data":{"name":"L"},"transform":[{"filter":"datum.p=='c3'"}],"mark":{"type":"line","strokeWidth":1,"clip":true},"encoding":{"x":{"field":"T","type":"quantitative","scale":{"domain":[65,917],"reverse":true,"nice":false,"zero":false},"axis":{"values":[900,800,700,600,500,400,300,200,100],"format":"d","tickCount":30,"labelOverlap":false,"labelFlush":false,"title":"Probe surface temperature (°C)"}},"y":{"field":"q","type":"quantitative","scale":{"domain":[-0.1,1.3],"nice":false,"zero":false},"axis":{"values":[0,0.2,0.4,0.6,0.8,1.0,1.2],"tickCount":30,"labelOverlap":false,"format":".1f","title":"Heat flux (MW/m²)"}},"color":{"field":"s","type":"nominal","scale":{"domain":["25mm","50mm"],"range":["#000000","#ff0000"]},"legend":{"orient":"none","legendX":123,"legendY":11,"title":null}},"order":{"value":null}}},
{"data":{"name":"M"},"transform":[{"filter":"datum.p=='c3'"}],"mark":{"type":"point","filled":true,"size":18,"opacity":1,"clip":true},"encoding":{"x":{"field":"T","type":"quantitative"},"y":{"field":"q","type":"quantitative"},"color":{"field":"s","type":"nominal"},"shape":{"field":"s","type":"nominal","scale":{"domain":["25mm","50mm"],"range":["square","circle"]},"legend":{"orient":"none","legendX":123,"legendY":11,"title":null}}}}
]}
],
"config":{
"font":"Liberation Sans",
"view":{"stroke":"black","strokeWidth":1},
"axis":{"grid":false,"domainColor":"black","tickColor":"black","tickSize":3,"labelFont":"Liberation Sans","labelFontSize":7,"labelFontWeight":"bold","labelColor":"black","labelPadding":1,"labelOverlap":false,"labelFlush":false,"titleFont":"Liberation Sans","titleFontSize":7,"titleFontWeight":"bold","titleColor":"black","titlePadding":2},
"legend":{"labelFont":"Liberation Sans","labelFontSize":7,"labelFontWeight":"bold","labelColor":"black","symbolSize":18,"rowPadding":2,"padding":0,"labelOffset":7},
"title":{"font":"Liberation Serif","fontSize":17,"fontWeight":"bold","color":"black","offset":-2,"anchor":"middle"}
}
}
